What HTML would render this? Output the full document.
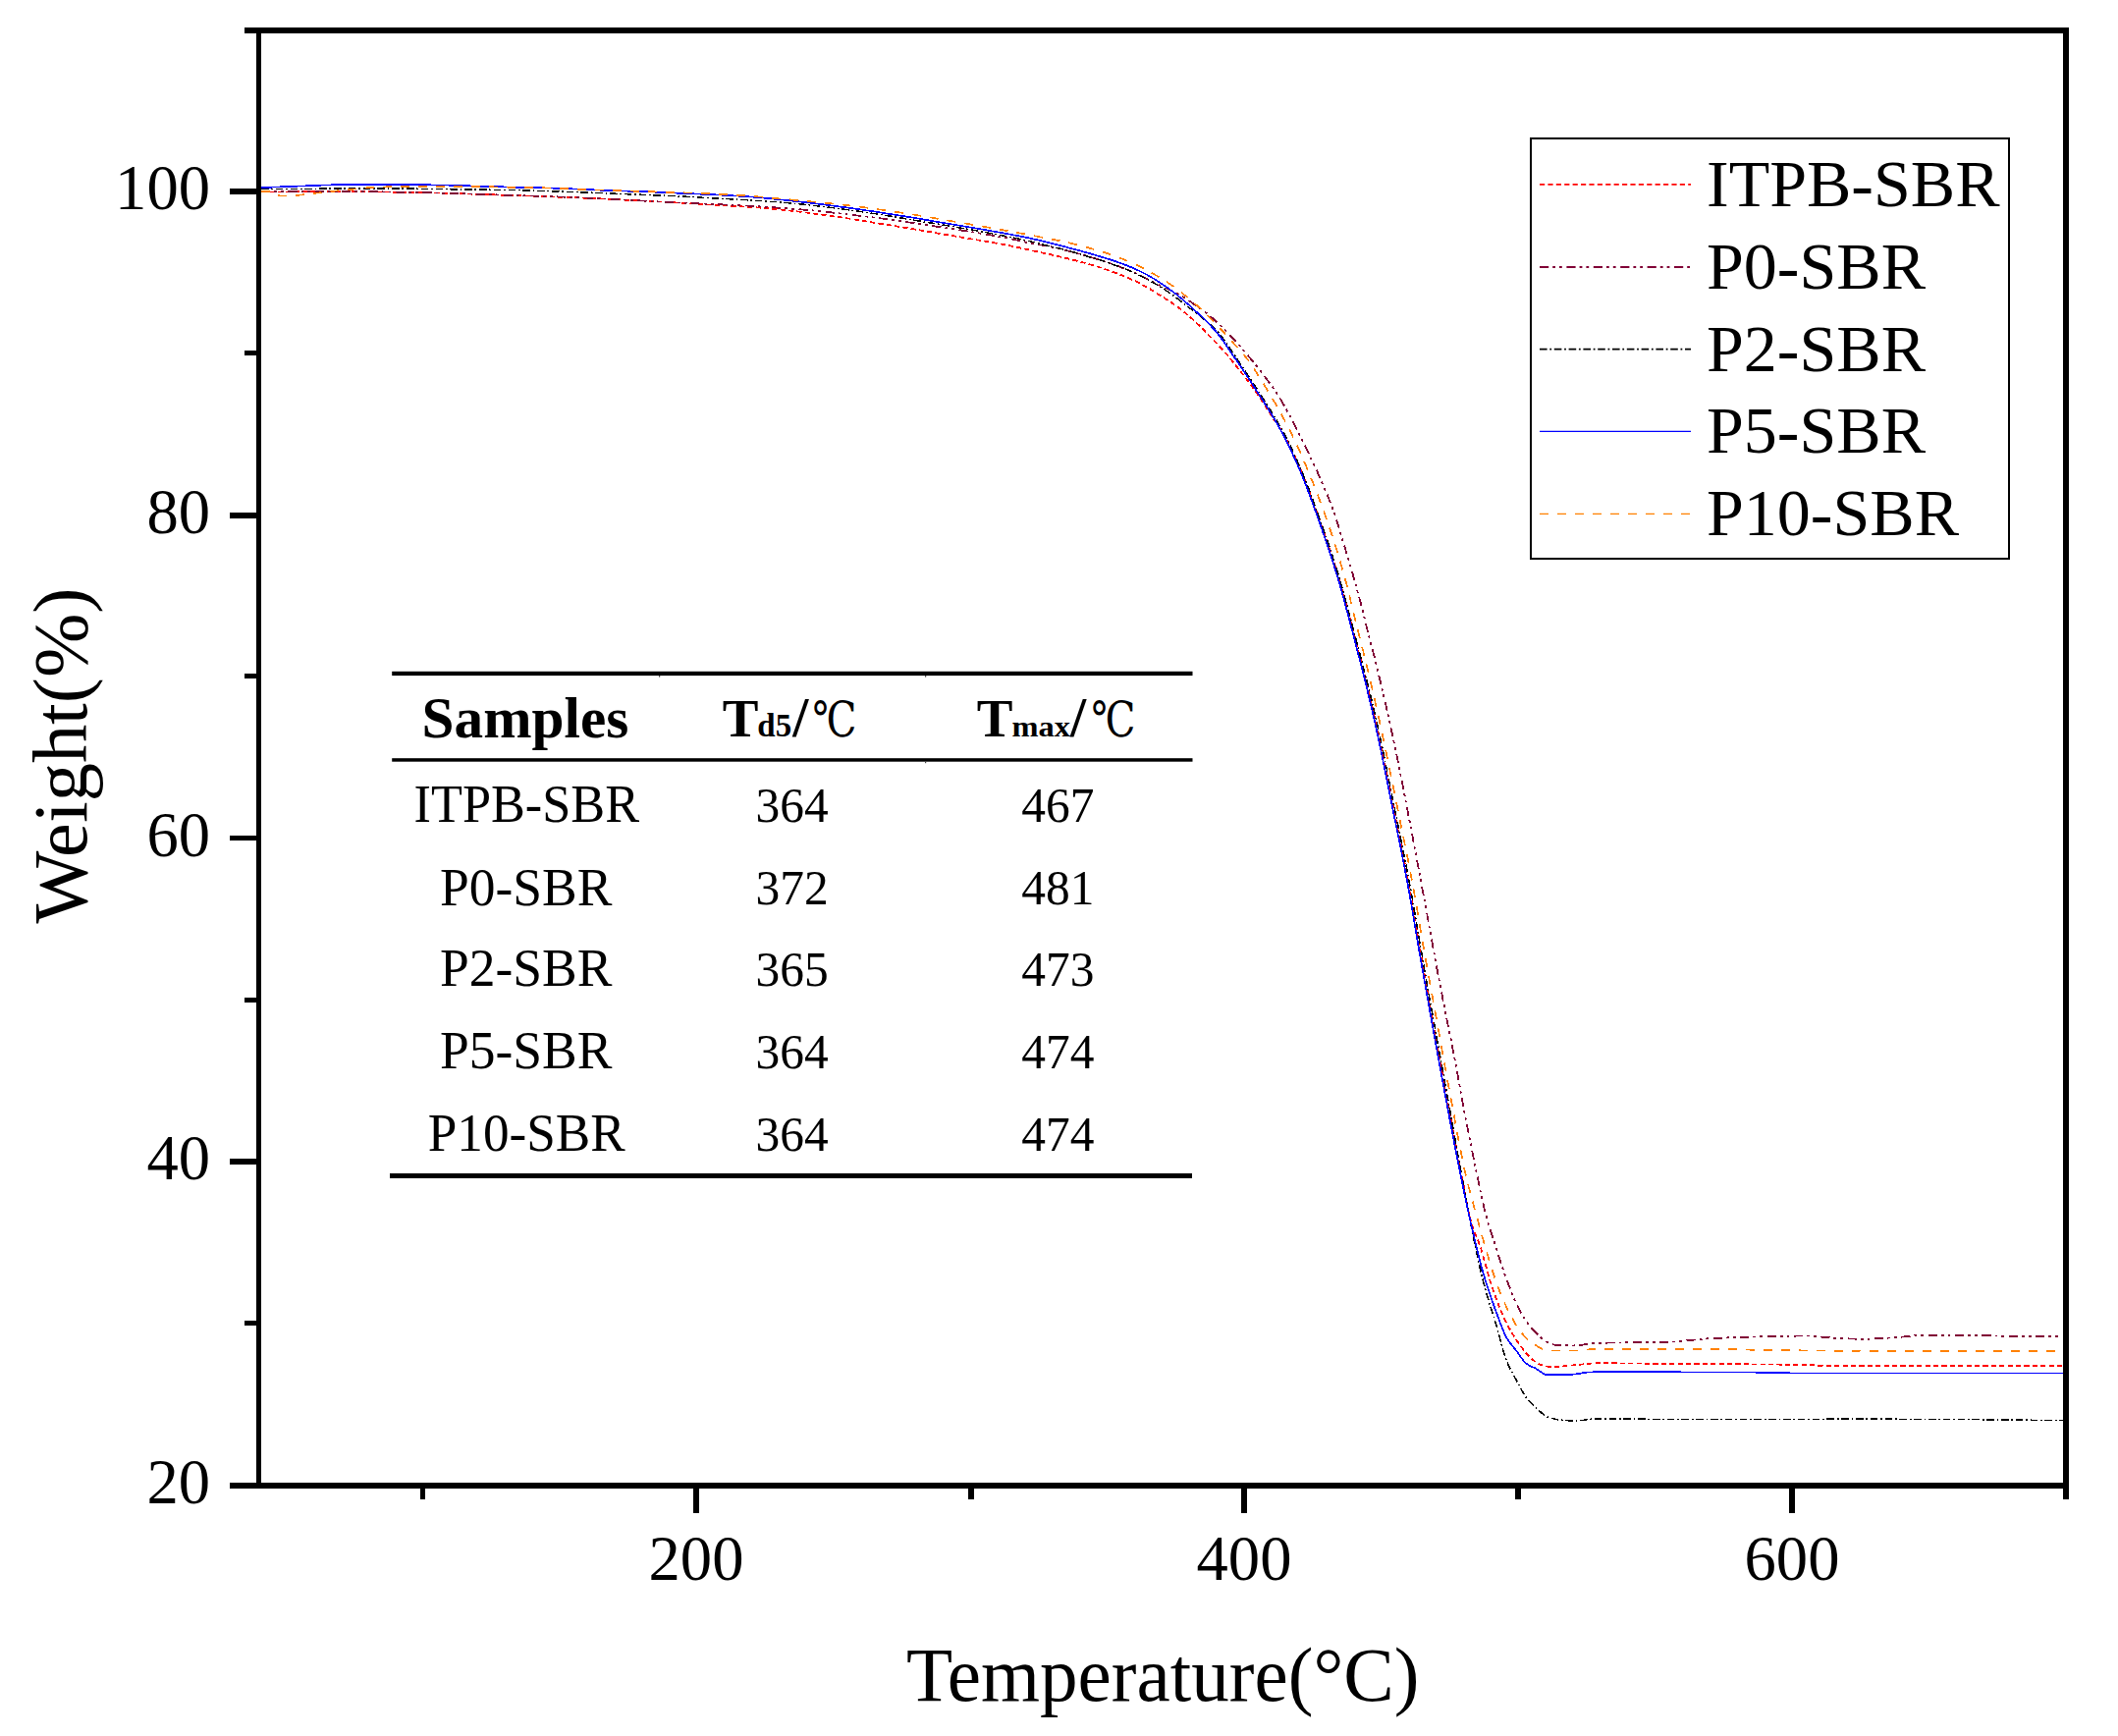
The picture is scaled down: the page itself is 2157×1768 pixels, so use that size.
<!DOCTYPE html>
<html lang="en"><head><meta charset="utf-8"><title>TGA curves</title>
<style>html,body{margin:0;padding:0;background:#fff}svg{display:block}text{font-family:"Liberation Serif","Noto Serif CJK SC",serif;fill:#000}.deg{font-family:"DejaVu Serif","Noto Serif CJK SC",serif}</style></head><body>
<svg width="2157" height="1768" viewBox="0 0 2157 1768">
<rect x="0" y="0" width="2157" height="1768" fill="#ffffff"/>
<defs><clipPath id="plot"><rect x="266" y="34" width="1835" height="1476"/></clipPath></defs>
<g clip-path="url(#plot)" fill="none" stroke-linejoin="round" shape-rendering="crispEdges">
<path d="M266.0,195.5 L268.0,195.5 L270.0,195.5 L272.0,195.5 L274.0,195.5 L276.0,195.4 L278.0,195.4 L280.0,195.4 L282.0,195.4 L284.0,195.4 L286.0,195.4 L288.0,195.4 L290.0,195.4 L292.0,195.4 L294.0,195.4 L296.0,195.3 L298.0,195.3 L300.0,195.3 L302.0,195.3 L304.0,195.3 L306.0,195.3 L308.0,195.3 L310.0,195.3 L312.0,195.3 L314.0,195.3 L316.0,195.3 L318.0,195.3 L320.0,195.3 L322.0,195.3 L324.0,195.3 L326.0,195.3 L328.0,195.3 L330.0,195.3 L332.0,195.3 L334.0,195.3 L336.0,195.3 L338.0,195.3 L340.0,195.3 L342.0,195.3 L344.0,195.3 L346.0,195.3 L348.0,195.3 L350.0,195.3 L352.0,195.3 L354.0,195.3 L356.0,195.3 L358.0,195.3 L360.0,195.3 L362.0,195.3 L364.0,195.3 L366.0,195.3 L368.0,195.3 L370.0,195.3 L372.0,195.3 L374.0,195.3 L376.0,195.3 L378.0,195.4 L380.0,195.4 L382.0,195.4 L384.0,195.4 L386.0,195.4 L388.0,195.4 L390.0,195.5 L392.0,195.5 L394.0,195.5 L396.0,195.5 L398.0,195.6 L400.0,195.6 L402.0,195.6 L404.0,195.7 L406.0,195.7 L408.0,195.7 L410.0,195.7 L412.0,195.8 L414.0,195.8 L416.0,195.8 L418.0,195.9 L420.0,195.9 L422.0,195.9 L424.0,196.0 L426.0,196.0 L428.0,196.1 L430.0,196.1 L432.0,196.1 L434.0,196.2 L436.0,196.2 L438.0,196.3 L440.0,196.4 L442.0,196.4 L444.0,196.5 L446.0,196.5 L448.0,196.6 L450.0,196.7 L452.0,196.7 L454.0,196.8 L456.0,196.9 L458.0,196.9 L460.0,197.0 L462.0,197.1 L464.0,197.1 L466.0,197.2 L468.0,197.2 L470.0,197.3 L472.0,197.4 L474.0,197.4 L476.0,197.5 L478.0,197.5 L480.0,197.6 L482.0,197.7 L484.0,197.7 L486.0,197.8 L488.0,197.9 L490.0,197.9 L492.0,198.0 L494.0,198.1 L496.0,198.1 L498.0,198.2 L500.0,198.3 L502.0,198.3 L504.0,198.4 L506.0,198.5 L508.0,198.5 L510.0,198.6 L512.0,198.7 L514.0,198.7 L516.0,198.8 L518.0,198.9 L520.0,198.9 L522.0,199.0 L524.0,199.1 L526.0,199.1 L528.0,199.2 L530.0,199.3 L532.0,199.3 L534.0,199.4 L536.0,199.5 L538.0,199.5 L540.0,199.6 L542.0,199.7 L544.0,199.7 L546.0,199.8 L548.0,199.9 L550.0,199.9 L552.0,200.0 L554.0,200.1 L556.0,200.1 L558.0,200.2 L560.0,200.3 L562.0,200.4 L564.0,200.4 L566.0,200.5 L568.0,200.6 L570.0,200.6 L572.0,200.7 L574.0,200.8 L576.0,200.9 L578.0,201.0 L580.0,201.0 L582.0,201.1 L584.0,201.2 L586.0,201.3 L588.0,201.4 L590.0,201.5 L592.0,201.5 L594.0,201.6 L596.0,201.7 L598.0,201.8 L600.0,201.9 L602.0,202.0 L604.0,202.1 L606.0,202.2 L608.0,202.3 L610.0,202.3 L612.0,202.4 L614.0,202.5 L616.0,202.6 L618.0,202.7 L620.0,202.8 L622.0,202.9 L624.0,203.0 L626.0,203.1 L628.0,203.2 L630.0,203.3 L632.0,203.4 L634.0,203.5 L636.0,203.6 L638.0,203.7 L640.0,203.8 L642.0,203.9 L644.0,204.0 L646.0,204.1 L648.0,204.2 L650.0,204.3 L652.0,204.4 L654.0,204.5 L656.0,204.6 L658.0,204.7 L660.0,204.8 L662.0,204.9 L664.0,205.0 L666.0,205.2 L668.0,205.3 L670.0,205.4 L672.0,205.5 L674.0,205.6 L676.0,205.7 L678.0,205.8 L680.0,205.9 L682.0,206.0 L684.0,206.2 L686.0,206.3 L688.0,206.4 L690.0,206.5 L692.0,206.6 L694.0,206.7 L696.0,206.9 L698.0,207.0 L700.0,207.1 L702.0,207.2 L704.0,207.4 L706.0,207.5 L708.0,207.6 L710.0,207.7 L712.0,207.9 L714.0,208.0 L716.0,208.1 L718.0,208.2 L720.0,208.4 L722.0,208.5 L724.0,208.6 L726.0,208.7 L728.0,208.9 L730.0,209.0 L732.0,209.1 L734.0,209.2 L736.0,209.3 L738.0,209.4 L740.0,209.5 L742.0,209.6 L744.0,209.7 L746.0,209.9 L748.0,210.0 L750.0,210.1 L752.0,210.2 L754.0,210.3 L756.0,210.4 L758.0,210.6 L760.0,210.7 L762.0,210.8 L764.0,210.9 L766.0,211.1 L768.0,211.2 L770.0,211.3 L772.0,211.5 L774.0,211.6 L776.0,211.8 L778.0,211.9 L780.0,212.1 L782.0,212.2 L784.0,212.4 L786.0,212.6 L788.0,212.8 L790.0,213.0 L792.0,213.2 L794.0,213.4 L796.0,213.6 L798.0,213.8 L800.0,214.0 L802.0,214.2 L804.0,214.5 L806.0,214.7 L808.0,214.9 L810.0,215.1 L812.0,215.4 L814.0,215.6 L816.0,215.9 L818.0,216.1 L820.0,216.4 L822.0,216.6 L824.0,216.9 L826.0,217.1 L828.0,217.4 L830.0,217.7 L832.0,217.9 L834.0,218.2 L836.0,218.5 L838.0,218.8 L840.0,219.0 L842.0,219.3 L844.0,219.6 L846.0,219.9 L848.0,220.2 L850.0,220.5 L852.0,220.8 L854.0,221.0 L856.0,221.3 L858.0,221.6 L860.0,221.9 L862.0,222.2 L864.0,222.5 L866.0,222.8 L868.0,223.2 L870.0,223.5 L872.0,223.8 L874.0,224.1 L876.0,224.4 L878.0,224.7 L880.0,225.1 L882.0,225.4 L884.0,225.7 L886.0,226.0 L888.0,226.4 L890.0,226.7 L892.0,227.0 L894.0,227.3 L896.0,227.7 L898.0,228.0 L900.0,228.3 L902.0,228.6 L904.0,229.0 L906.0,229.3 L908.0,229.6 L910.0,229.9 L912.0,230.3 L914.0,230.6 L916.0,230.9 L918.0,231.2 L920.0,231.5 L922.0,231.9 L924.0,232.2 L926.0,232.5 L928.0,232.9 L930.0,233.2 L932.0,233.5 L934.0,233.9 L936.0,234.2 L938.0,234.6 L940.0,234.9 L942.0,235.3 L944.0,235.6 L946.0,236.0 L948.0,236.3 L950.0,236.7 L952.0,237.1 L954.0,237.4 L956.0,237.8 L958.0,238.1 L960.0,238.4 L962.0,238.8 L964.0,239.1 L966.0,239.5 L968.0,239.8 L970.0,240.1 L972.0,240.5 L974.0,240.8 L976.0,241.1 L978.0,241.5 L980.0,241.8 L982.0,242.2 L984.0,242.5 L986.0,242.8 L988.0,243.2 L990.0,243.5 L992.0,243.8 L994.0,244.2 L996.0,244.5 L998.0,244.8 L1000.0,245.2 L1002.0,245.5 L1004.0,245.8 L1006.0,246.2 L1008.0,246.5 L1010.0,246.8 L1012.0,247.2 L1014.0,247.5 L1016.0,247.9 L1018.0,248.3 L1020.0,248.6 L1022.0,249.0 L1024.0,249.4 L1026.0,249.8 L1028.0,250.2 L1030.0,250.6 L1032.0,251.0 L1034.0,251.4 L1036.0,251.9 L1038.0,252.3 L1040.0,252.7 L1042.0,253.1 L1044.0,253.6 L1046.0,254.0 L1048.0,254.5 L1050.0,254.9 L1052.0,255.4 L1054.0,255.8 L1056.0,256.3 L1058.0,256.7 L1060.0,257.1 L1062.0,257.6 L1064.0,258.0 L1066.0,258.4 L1068.0,258.9 L1070.0,259.3 L1072.0,259.7 L1074.0,260.2 L1076.0,260.6 L1078.0,261.1 L1080.0,261.6 L1082.0,262.0 L1084.0,262.5 L1086.0,263.0 L1088.0,263.5 L1090.0,264.0 L1092.0,264.5 L1094.0,265.0 L1096.0,265.5 L1098.0,266.1 L1100.0,266.6 L1102.0,267.2 L1104.0,267.7 L1106.0,268.3 L1108.0,268.8 L1110.0,269.4 L1112.0,270.0 L1114.0,270.5 L1116.0,271.1 L1118.0,271.7 L1120.0,272.3 L1122.0,273.0 L1124.0,273.6 L1126.0,274.3 L1128.0,275.0 L1130.0,275.7 L1132.0,276.4 L1134.0,277.1 L1136.0,277.9 L1138.0,278.6 L1140.0,279.4 L1142.0,280.1 L1144.0,280.9 L1146.0,281.7 L1148.0,282.6 L1150.0,283.4 L1152.0,284.3 L1154.0,285.2 L1156.0,286.2 L1158.0,287.1 L1160.0,288.2 L1162.0,289.2 L1164.0,290.3 L1166.0,291.4 L1168.0,292.5 L1170.0,293.7 L1172.0,294.8 L1174.0,296.1 L1176.0,297.3 L1178.0,298.6 L1180.0,299.9 L1182.0,301.2 L1184.0,302.4 L1186.0,303.7 L1188.0,305.0 L1190.0,306.3 L1192.0,307.6 L1194.0,308.9 L1196.0,310.3 L1198.0,311.7 L1200.0,313.2 L1202.0,314.7 L1204.0,316.3 L1206.0,317.9 L1208.0,319.5 L1210.0,321.2 L1212.0,322.9 L1214.0,324.7 L1216.0,326.5 L1218.0,328.4 L1220.0,330.3 L1222.0,332.2 L1224.0,334.2 L1226.0,336.2 L1228.0,338.3 L1230.0,340.4 L1232.0,342.5 L1234.0,344.6 L1236.0,346.7 L1238.0,348.7 L1240.0,350.7 L1242.0,352.8 L1244.0,354.9 L1246.0,357.0 L1248.0,359.3 L1250.0,361.6 L1251.9,363.9 L1253.8,366.2 L1255.7,368.6 L1257.6,371.0 L1259.4,373.3 L1261.3,375.7 L1263.1,378.0 L1265.0,380.4 L1266.9,382.7 L1268.7,385.1 L1270.6,387.5 L1272.4,389.9 L1274.2,392.4 L1275.9,394.8 L1277.7,397.3 L1279.4,399.7 L1281.1,402.2 L1282.8,404.7 L1284.5,407.2 L1286.1,409.7 L1287.8,412.3 L1289.4,414.8 L1291.0,417.3 L1292.6,419.8 L1294.3,422.4 L1295.9,424.9 L1297.5,427.4 L1299.2,429.9 L1300.8,432.3 L1302.5,434.8 L1304.2,437.4 L1305.8,439.9 L1307.4,442.5 L1308.9,445.2 L1310.4,447.9 L1311.8,450.6 L1313.2,453.3 L1314.6,456.0 L1315.9,458.7 L1317.1,461.5 L1318.4,464.2 L1319.6,467.0 L1320.8,469.8 L1322.0,472.6 L1323.2,475.3 L1324.4,478.1 L1325.5,480.9 L1326.7,483.7 L1327.8,486.4 L1328.9,489.2 L1330.1,492.1 L1331.2,494.9 L1332.2,497.7 L1333.3,500.5 L1334.4,503.3 L1335.4,506.2 L1336.5,509.0 L1337.5,511.8 L1338.5,514.6 L1339.5,517.5 L1340.5,520.3 L1341.5,523.1 L1342.5,526.0 L1343.5,528.8 L1344.5,531.6 L1345.5,534.5 L1346.5,537.3 L1347.5,540.1 L1348.5,543.0 L1349.5,545.8 L1350.5,548.7 L1351.5,551.5 L1352.4,554.3 L1353.4,557.2 L1354.4,560.1 L1355.3,562.9 L1356.3,565.8 L1357.2,568.6 L1358.1,571.5 L1359.0,574.4 L1359.9,577.3 L1360.8,580.1 L1361.7,583.0 L1362.6,585.9 L1363.5,588.8 L1364.3,591.7 L1365.1,594.6 L1366.0,597.5 L1366.8,600.4 L1367.6,603.3 L1368.4,606.2 L1369.2,609.1 L1370.0,612.0 L1370.8,614.9 L1371.5,617.9 L1372.3,620.8 L1373.1,623.7 L1373.9,626.6 L1374.6,629.5 L1375.4,632.4 L1376.2,635.3 L1376.9,638.2 L1377.7,641.1 L1378.4,644.0 L1379.2,646.9 L1380.0,649.8 L1380.7,652.7 L1381.5,655.6 L1382.2,658.5 L1383.0,661.4 L1383.8,664.3 L1384.5,667.2 L1385.3,670.1 L1386.0,673.1 L1386.8,676.0 L1387.5,678.9 L1388.2,681.8 L1389.0,684.7 L1389.7,687.6 L1390.4,690.5 L1391.2,693.5 L1391.9,696.4 L1392.6,699.3 L1393.3,702.2 L1394.0,705.1 L1394.7,708.1 L1395.4,711.0 L1396.1,713.9 L1396.8,716.8 L1397.5,719.8 L1398.2,722.7 L1398.9,725.6 L1399.6,728.6 L1400.2,731.5 L1400.9,734.4 L1401.6,737.4 L1402.2,740.3 L1402.9,743.3 L1403.5,746.2 L1404.2,749.2 L1404.8,752.1 L1405.4,755.1 L1406.0,758.0 L1406.7,760.9 L1407.3,763.9 L1407.9,766.8 L1408.5,769.8 L1409.1,772.7 L1409.7,775.7 L1410.3,778.6 L1410.9,781.6 L1411.5,784.5 L1412.1,787.5 L1412.7,790.4 L1413.2,793.3 L1413.8,796.3 L1414.4,799.2 L1415.0,802.2 L1415.6,805.1 L1416.2,808.0 L1416.8,811.0 L1417.4,813.9 L1418.0,816.9 L1418.6,819.8 L1419.1,822.7 L1419.7,825.7 L1420.3,828.6 L1420.9,831.5 L1421.5,834.5 L1422.1,837.4 L1422.7,840.4 L1423.3,843.3 L1423.9,846.2 L1424.5,849.2 L1425.1,852.1 L1425.7,855.1 L1426.3,858.0 L1426.9,861.0 L1427.5,863.9 L1428.1,866.8 L1428.7,869.8 L1429.3,872.7 L1429.9,875.7 L1430.5,878.6 L1431.0,881.6 L1431.6,884.6 L1432.2,887.5 L1432.8,890.5 L1433.3,893.4 L1433.9,896.4 L1434.4,899.3 L1435.0,902.3 L1435.5,905.3 L1436.1,908.2 L1436.6,911.2 L1437.1,914.2 L1437.6,917.1 L1438.2,920.1 L1438.7,923.1 L1439.2,926.0 L1439.7,929.0 L1440.2,932.0 L1440.7,934.9 L1441.2,937.9 L1441.7,940.9 L1442.2,943.8 L1442.7,946.8 L1443.2,949.7 L1443.7,952.7 L1444.2,955.6 L1444.7,958.6 L1445.2,961.5 L1445.7,964.5 L1446.2,967.5 L1446.7,970.4 L1447.2,973.3 L1447.8,976.3 L1448.3,979.2 L1448.8,982.2 L1449.3,985.1 L1449.8,988.1 L1450.4,991.1 L1450.9,994.0 L1451.4,997.0 L1451.9,999.9 L1452.4,1002.9 L1453.0,1005.8 L1453.5,1008.8 L1454.0,1011.7 L1454.6,1014.7 L1455.1,1017.6 L1455.6,1020.6 L1456.1,1023.5 L1456.7,1026.5 L1457.2,1029.4 L1457.7,1032.4 L1458.3,1035.3 L1458.8,1038.3 L1459.3,1041.2 L1459.9,1044.2 L1460.4,1047.1 L1460.9,1050.1 L1461.4,1053.0 L1462.0,1056.0 L1462.5,1058.9 L1463.0,1061.9 L1463.6,1064.8 L1464.1,1067.8 L1464.6,1070.7 L1465.2,1073.7 L1465.7,1076.6 L1466.3,1079.6 L1466.8,1082.5 L1467.3,1085.5 L1467.9,1088.4 L1468.4,1091.4 L1469.0,1094.3 L1469.5,1097.3 L1470.0,1100.2 L1470.6,1103.2 L1471.1,1106.1 L1471.7,1109.1 L1472.2,1112.0 L1472.8,1115.0 L1473.3,1117.9 L1473.9,1120.8 L1474.4,1123.8 L1475.0,1126.7 L1475.6,1129.7 L1476.1,1132.6 L1476.7,1135.6 L1477.2,1138.5 L1477.8,1141.5 L1478.4,1144.4 L1478.9,1147.3 L1479.5,1150.3 L1480.1,1153.2 L1480.6,1156.2 L1481.2,1159.1 L1481.8,1162.1 L1482.3,1165.0 L1482.9,1167.9 L1483.5,1170.9 L1484.0,1173.8 L1484.6,1176.8 L1485.2,1179.7 L1485.8,1182.7 L1486.3,1185.6 L1486.9,1188.5 L1487.5,1191.5 L1488.1,1194.4 L1488.7,1197.4 L1489.2,1200.3 L1489.8,1203.3 L1490.4,1206.3 L1490.9,1209.2 L1491.4,1212.2 L1492.0,1215.2 L1492.5,1218.1 L1493.1,1221.0 L1493.6,1224.0 L1494.2,1226.9 L1494.8,1229.8 L1495.4,1232.7 L1496.0,1235.5 L1496.6,1238.4 L1497.3,1241.2 L1498.0,1244.0 L1498.8,1246.7 L1499.7,1249.5 L1500.6,1252.2 L1501.7,1254.9 L1502.8,1257.6 L1503.9,1260.3 L1505.1,1263.1 L1506.2,1266.0 L1507.3,1268.9 L1508.3,1271.9 L1509.2,1274.8 L1510.1,1277.8 L1510.9,1280.7 L1511.7,1283.6 L1512.5,1286.5 L1513.3,1289.4 L1514.1,1292.3 L1514.9,1295.2 L1515.7,1298.1 L1516.5,1300.9 L1517.3,1303.7 L1518.2,1306.5 L1519.1,1309.3 L1520.1,1312.1 L1521.0,1315.0 L1522.0,1317.8 L1523.0,1320.6 L1524.0,1323.4 L1525.0,1326.1 L1526.1,1328.9 L1527.2,1331.6 L1528.3,1334.4 L1529.5,1337.1 L1530.7,1339.8 L1531.9,1342.5 L1533.2,1345.1 L1534.5,1347.8 L1535.8,1350.4 L1537.2,1353.0 L1538.7,1355.6 L1540.2,1358.1 L1541.7,1360.7 L1543.3,1363.2 L1544.9,1365.6 L1546.6,1368.1 L1548.3,1370.5 L1550.1,1372.8 L1551.9,1375.2 L1553.8,1377.5 L1555.7,1379.7 L1557.6,1381.9 L1559.6,1383.7 L1561.6,1385.3 L1563.6,1386.8 L1565.6,1388.2 L1567.6,1389.3 L1569.6,1390.2 L1571.6,1390.7 L1573.6,1391.2 L1575.6,1391.5 L1577.6,1391.8 L1579.6,1392.0 L1581.6,1392.0 L1583.6,1391.9 L1585.6,1391.8 L1587.6,1391.7 L1589.6,1391.5 L1591.6,1391.4 L1593.6,1391.2 L1595.6,1390.9 L1597.6,1390.7 L1599.6,1390.6 L1601.6,1390.4 L1603.6,1390.2 L1605.6,1390.0 L1607.6,1389.8 L1609.6,1389.6 L1611.6,1389.4 L1613.6,1389.2 L1615.6,1389.0 L1617.6,1388.8 L1619.6,1388.6 L1621.6,1388.5 L1623.6,1388.4 L1625.6,1388.3 L1627.6,1388.3 L1629.6,1388.3 L1631.6,1388.3 L1633.6,1388.3 L1635.6,1388.3 L1637.6,1388.3 L1639.6,1388.3 L1641.6,1388.3 L1643.6,1388.3 L1645.6,1388.3 L1647.6,1388.4 L1649.6,1388.4 L1651.6,1388.4 L1653.6,1388.4 L1655.6,1388.4 L1657.6,1388.4 L1659.6,1388.4 L1661.6,1388.5 L1663.6,1388.5 L1665.6,1388.5 L1667.6,1388.5 L1669.6,1388.5 L1671.6,1388.5 L1673.6,1388.6 L1675.6,1388.6 L1677.6,1388.6 L1679.6,1388.6 L1681.6,1388.6 L1683.6,1388.7 L1685.6,1388.7 L1687.6,1388.7 L1689.6,1388.7 L1691.6,1388.7 L1693.6,1388.8 L1695.6,1388.8 L1697.6,1388.8 L1699.6,1388.8 L1701.6,1388.8 L1703.6,1388.9 L1705.6,1388.9 L1707.6,1388.9 L1709.6,1388.9 L1711.6,1388.9 L1713.6,1388.9 L1715.6,1389.0 L1717.6,1389.0 L1719.6,1389.0 L1721.6,1389.0 L1723.6,1389.0 L1725.6,1389.0 L1727.6,1389.1 L1729.6,1389.1 L1731.6,1389.1 L1733.6,1389.1 L1735.6,1389.1 L1737.6,1389.1 L1739.6,1389.1 L1741.6,1389.1 L1743.6,1389.1 L1745.6,1389.2 L1747.6,1389.2 L1749.6,1389.2 L1751.6,1389.2 L1753.6,1389.2 L1755.6,1389.2 L1757.6,1389.2 L1759.6,1389.2 L1761.6,1389.2 L1763.6,1389.2 L1765.6,1389.3 L1767.6,1389.3 L1769.6,1389.3 L1771.6,1389.3 L1773.6,1389.3 L1775.6,1389.3 L1777.6,1389.3 L1779.6,1389.3 L1781.6,1389.3 L1783.6,1389.4 L1785.6,1389.4 L1787.6,1389.4 L1789.6,1389.4 L1791.6,1389.4 L1793.6,1389.4 L1795.6,1389.4 L1797.6,1389.4 L1799.6,1389.5 L1801.6,1389.5 L1803.6,1389.5 L1805.6,1389.5 L1807.6,1389.5 L1809.6,1389.5 L1811.6,1389.6 L1813.6,1389.6 L1815.6,1389.6 L1817.6,1389.6 L1819.6,1389.7 L1821.6,1389.7 L1823.6,1389.7 L1825.6,1389.7 L1827.6,1389.7 L1829.6,1389.8 L1831.6,1389.8 L1833.6,1389.8 L1835.6,1389.9 L1837.6,1389.9 L1839.6,1389.9 L1841.6,1390.0 L1843.6,1390.1 L1845.6,1390.3 L1847.6,1390.4 L1849.6,1390.5 L1851.6,1390.7 L1853.6,1390.8 L1855.6,1390.9 L1857.6,1391.0 L1859.6,1391.0 L1861.6,1391.0 L1863.6,1391.0 L1865.6,1391.0 L1867.6,1391.0 L1869.6,1391.0 L1871.6,1391.0 L1873.6,1391.0 L1875.6,1391.0 L1877.6,1391.0 L1879.6,1391.0 L1881.6,1391.0 L1883.6,1391.0 L1885.6,1391.0 L1887.6,1391.0 L1889.6,1391.0 L1891.6,1391.0 L1893.6,1391.0 L1895.6,1391.0 L1897.6,1391.0 L1899.6,1391.0 L1901.6,1391.0 L1903.6,1391.0 L1905.6,1391.0 L1907.6,1391.0 L1909.6,1391.0 L1911.6,1391.0 L1913.6,1391.0 L1915.6,1391.0 L1917.6,1391.0 L1919.6,1391.0 L1921.6,1391.0 L1923.6,1391.0 L1925.6,1391.0 L1927.6,1391.0 L1929.6,1391.0 L1931.6,1391.0 L1933.6,1391.0 L1935.6,1391.0 L1937.6,1391.0 L1939.6,1391.0 L1941.6,1391.0 L1943.6,1391.0 L1945.6,1391.0 L1947.6,1391.0 L1949.6,1391.0 L1951.6,1391.0 L1953.6,1391.0 L1955.6,1391.0 L1957.6,1391.0 L1959.6,1391.0 L1961.6,1391.0 L1963.6,1391.0 L1965.6,1391.0 L1967.6,1391.0 L1969.6,1391.0 L1971.6,1391.0 L1973.6,1391.0 L1975.6,1391.0 L1977.6,1391.0 L1979.6,1391.0 L1981.6,1391.0 L1983.6,1391.0 L1985.6,1391.0 L1987.6,1391.0 L1989.6,1391.0 L1991.6,1391.0 L1993.6,1391.0 L1995.6,1391.0 L1997.6,1391.0 L1999.6,1391.0 L2001.6,1391.0 L2003.6,1391.0 L2005.6,1391.0 L2007.6,1391.0 L2009.6,1391.0 L2011.6,1391.0 L2013.6,1391.0 L2015.6,1391.0 L2017.6,1391.0 L2019.6,1391.0 L2021.6,1391.0 L2023.6,1391.0 L2025.6,1391.0 L2027.6,1391.0 L2029.6,1391.0 L2031.6,1391.0 L2033.6,1391.0 L2035.6,1391.0 L2037.6,1391.0 L2039.6,1391.0 L2041.6,1391.0 L2043.6,1391.0 L2045.6,1391.0 L2047.6,1391.0 L2049.6,1391.0 L2051.6,1391.0 L2053.6,1391.0 L2055.6,1391.0 L2057.6,1391.0 L2059.6,1391.0 L2061.6,1391.0 L2063.6,1391.0 L2065.6,1391.0 L2067.6,1391.0 L2069.6,1391.0 L2071.6,1391.0 L2073.6,1391.0 L2075.6,1391.0 L2077.6,1391.0 L2079.6,1391.0 L2081.6,1391.0 L2083.6,1391.0 L2085.6,1391.0 L2087.6,1391.0 L2089.6,1391.0 L2091.6,1391.0 L2093.6,1391.0 L2095.6,1391.0 L2097.6,1391.0 L2099.6,1391.0 L2101.0,1391.0" stroke="#ff0000" stroke-width="1.8" stroke-dasharray="5.2 3.2"/>
<path d="M266.0,195.4 L268.0,195.4 L270.0,195.4 L272.0,195.4 L274.0,195.4 L276.0,195.3 L278.0,195.3 L280.0,195.3 L282.0,195.3 L284.0,195.3 L286.0,195.3 L288.0,195.3 L290.0,195.3 L292.0,195.3 L294.0,195.3 L296.0,195.2 L298.0,195.2 L300.0,195.2 L302.0,195.2 L304.0,195.2 L306.0,195.2 L308.0,195.2 L310.0,195.2 L312.0,195.2 L314.0,195.2 L316.0,195.2 L318.0,195.2 L320.0,195.2 L322.0,195.2 L324.0,195.2 L326.0,195.2 L328.0,195.2 L330.0,195.2 L332.0,195.2 L334.0,195.2 L336.0,195.2 L338.0,195.2 L340.0,195.2 L342.0,195.2 L344.0,195.2 L346.0,195.2 L348.0,195.2 L350.0,195.2 L352.0,195.2 L354.0,195.2 L356.0,195.2 L358.0,195.2 L360.0,195.2 L362.0,195.2 L364.0,195.2 L366.0,195.2 L368.0,195.2 L370.0,195.2 L372.0,195.2 L374.0,195.2 L376.0,195.2 L378.0,195.3 L380.0,195.3 L382.0,195.3 L384.0,195.3 L386.0,195.3 L388.0,195.3 L390.0,195.4 L392.0,195.4 L394.0,195.4 L396.0,195.4 L398.0,195.5 L400.0,195.5 L402.0,195.5 L404.0,195.6 L406.0,195.6 L408.0,195.6 L410.0,195.6 L412.0,195.7 L414.0,195.7 L416.0,195.7 L418.0,195.8 L420.0,195.8 L422.0,195.8 L424.0,195.9 L426.0,195.9 L428.0,196.0 L430.0,196.0 L432.0,196.0 L434.0,196.1 L436.0,196.1 L438.0,196.2 L440.0,196.3 L442.0,196.3 L444.0,196.4 L446.0,196.4 L448.0,196.5 L450.0,196.6 L452.0,196.6 L454.0,196.7 L456.0,196.8 L458.0,196.8 L460.0,196.9 L462.0,197.0 L464.0,197.0 L466.0,197.1 L468.0,197.1 L470.0,197.2 L472.0,197.3 L474.0,197.3 L476.0,197.4 L478.0,197.4 L480.0,197.5 L482.0,197.6 L484.0,197.6 L486.0,197.7 L488.0,197.8 L490.0,197.8 L492.0,197.9 L494.0,198.0 L496.0,198.0 L498.0,198.1 L500.0,198.2 L502.0,198.2 L504.0,198.3 L506.0,198.4 L508.0,198.4 L510.0,198.5 L512.0,198.6 L514.0,198.6 L516.0,198.7 L518.0,198.8 L520.0,198.8 L522.0,198.9 L524.0,199.0 L526.0,199.0 L528.0,199.1 L530.0,199.2 L532.0,199.2 L534.0,199.3 L536.0,199.3 L538.0,199.4 L540.0,199.5 L542.0,199.5 L544.0,199.6 L546.0,199.7 L548.0,199.7 L550.0,199.8 L552.0,199.8 L554.0,199.9 L556.0,200.0 L558.0,200.0 L560.0,200.1 L562.0,200.2 L564.0,200.2 L566.0,200.3 L568.0,200.4 L570.0,200.5 L572.0,200.5 L574.0,200.6 L576.0,200.7 L578.0,200.8 L580.0,200.8 L582.0,200.9 L584.0,201.0 L586.0,201.1 L588.0,201.2 L590.0,201.3 L592.0,201.4 L594.0,201.4 L596.0,201.5 L598.0,201.6 L600.0,201.7 L602.0,201.8 L604.0,201.9 L606.0,202.0 L608.0,202.1 L610.0,202.2 L612.0,202.3 L614.0,202.4 L616.0,202.5 L618.0,202.6 L620.0,202.7 L622.0,202.8 L624.0,202.9 L626.0,203.0 L628.0,203.1 L630.0,203.2 L632.0,203.3 L634.0,203.4 L636.0,203.5 L638.0,203.6 L640.0,203.7 L642.0,203.8 L644.0,203.9 L646.0,204.1 L648.0,204.2 L650.0,204.3 L652.0,204.4 L654.0,204.5 L656.0,204.6 L658.0,204.7 L660.0,204.8 L662.0,204.9 L664.0,205.0 L666.0,205.2 L668.0,205.3 L670.0,205.4 L672.0,205.5 L674.0,205.6 L676.0,205.7 L678.0,205.8 L680.0,205.9 L682.0,206.0 L684.0,206.1 L686.0,206.2 L688.0,206.3 L690.0,206.4 L692.0,206.5 L694.0,206.6 L696.0,206.7 L698.0,206.8 L700.0,206.9 L702.0,206.9 L704.0,207.0 L706.0,207.1 L708.0,207.2 L710.0,207.3 L712.0,207.4 L714.0,207.5 L716.0,207.5 L718.0,207.6 L720.0,207.7 L722.0,207.8 L724.0,207.9 L726.0,208.0 L728.0,208.1 L730.0,208.1 L732.0,208.2 L734.0,208.3 L736.0,208.4 L738.0,208.5 L740.0,208.6 L742.0,208.7 L744.0,208.7 L746.0,208.8 L748.0,208.9 L750.0,209.0 L752.0,209.1 L754.0,209.2 L756.0,209.3 L758.0,209.4 L760.0,209.5 L762.0,209.6 L764.0,209.8 L766.0,209.9 L768.0,210.0 L770.0,210.1 L772.0,210.2 L774.0,210.4 L776.0,210.5 L778.0,210.6 L780.0,210.7 L782.0,210.9 L784.0,211.0 L786.0,211.2 L788.0,211.3 L790.0,211.4 L792.0,211.6 L794.0,211.7 L796.0,211.9 L798.0,212.0 L800.0,212.2 L802.0,212.3 L804.0,212.5 L806.0,212.6 L808.0,212.8 L810.0,212.9 L812.0,213.1 L814.0,213.2 L816.0,213.4 L818.0,213.6 L820.0,213.7 L822.0,213.9 L824.0,214.1 L826.0,214.3 L828.0,214.4 L830.0,214.6 L832.0,214.8 L834.0,215.0 L836.0,215.2 L838.0,215.4 L840.0,215.6 L842.0,215.9 L844.0,216.1 L846.0,216.3 L848.0,216.6 L850.0,216.8 L852.0,217.0 L854.0,217.3 L856.0,217.5 L858.0,217.8 L860.0,218.0 L862.0,218.2 L864.0,218.5 L866.0,218.7 L868.0,218.9 L870.0,219.2 L872.0,219.4 L874.0,219.6 L876.0,219.8 L878.0,220.1 L880.0,220.3 L882.0,220.5 L884.0,220.7 L886.0,221.0 L888.0,221.2 L890.0,221.5 L892.0,221.7 L894.0,222.0 L896.0,222.2 L898.0,222.5 L900.0,222.7 L902.0,223.0 L904.0,223.3 L906.0,223.6 L908.0,223.9 L910.0,224.1 L912.0,224.4 L914.0,224.7 L916.0,225.0 L918.0,225.3 L920.0,225.6 L922.0,225.9 L924.0,226.2 L926.0,226.5 L928.0,226.8 L930.0,227.1 L932.0,227.4 L934.0,227.7 L936.0,228.0 L938.0,228.3 L940.0,228.6 L942.0,228.9 L944.0,229.2 L946.0,229.5 L948.0,229.8 L950.0,230.1 L952.0,230.4 L954.0,230.7 L956.0,231.0 L958.0,231.3 L960.0,231.6 L962.0,231.9 L964.0,232.2 L966.0,232.5 L968.0,232.8 L970.0,233.1 L972.0,233.4 L974.0,233.7 L976.0,234.0 L978.0,234.3 L980.0,234.7 L982.0,235.0 L984.0,235.3 L986.0,235.6 L988.0,236.0 L990.0,236.3 L992.0,236.6 L994.0,237.0 L996.0,237.3 L998.0,237.6 L1000.0,238.0 L1002.0,238.3 L1004.0,238.6 L1006.0,239.0 L1008.0,239.3 L1010.0,239.6 L1012.0,240.0 L1014.0,240.3 L1016.0,240.7 L1018.0,241.0 L1020.0,241.4 L1022.0,241.8 L1024.0,242.1 L1026.0,242.5 L1028.0,242.9 L1030.0,243.3 L1032.0,243.7 L1034.0,244.2 L1036.0,244.7 L1038.0,245.1 L1040.0,245.6 L1042.0,246.1 L1044.0,246.5 L1046.0,247.0 L1048.0,247.4 L1050.0,247.8 L1052.0,248.2 L1054.0,248.6 L1056.0,248.9 L1058.0,249.2 L1060.0,249.5 L1062.0,249.8 L1064.0,250.1 L1066.0,250.5 L1068.0,250.9 L1070.0,251.3 L1072.0,251.7 L1074.0,252.2 L1076.0,252.7 L1078.0,253.1 L1080.0,253.6 L1082.0,254.1 L1084.0,254.6 L1086.0,255.2 L1088.0,255.7 L1090.0,256.2 L1092.0,256.7 L1094.0,257.3 L1096.0,257.8 L1098.0,258.3 L1100.0,258.9 L1102.0,259.4 L1104.0,260.0 L1106.0,260.5 L1108.0,261.1 L1110.0,261.7 L1112.0,262.3 L1114.0,262.9 L1116.0,263.5 L1118.0,264.1 L1120.0,264.7 L1122.0,265.4 L1124.0,266.0 L1126.0,266.7 L1128.0,267.4 L1130.0,268.0 L1132.0,268.7 L1134.0,269.4 L1136.0,270.2 L1138.0,270.9 L1140.0,271.6 L1142.0,272.4 L1144.0,273.2 L1146.0,274.0 L1148.0,274.8 L1150.0,275.6 L1152.0,276.4 L1154.0,277.3 L1156.0,278.2 L1158.0,279.2 L1160.0,280.2 L1162.0,281.2 L1164.0,282.2 L1166.0,283.2 L1168.0,284.2 L1170.0,285.3 L1172.0,286.3 L1174.0,287.2 L1176.0,288.2 L1178.0,289.1 L1180.0,289.9 L1182.0,290.8 L1184.0,291.6 L1186.0,292.5 L1188.0,293.4 L1190.0,294.4 L1192.0,295.4 L1194.0,296.5 L1196.0,297.5 L1198.0,298.6 L1200.0,299.6 L1202.0,300.7 L1204.0,301.8 L1206.0,302.9 L1208.0,304.2 L1210.0,305.6 L1212.0,307.0 L1214.0,308.4 L1216.0,309.8 L1218.0,311.2 L1220.0,312.5 L1222.0,313.9 L1224.0,315.4 L1226.0,316.9 L1228.0,318.4 L1230.0,320.0 L1232.0,321.6 L1234.0,323.3 L1236.0,325.0 L1238.0,326.8 L1240.0,328.7 L1242.0,330.5 L1244.0,332.5 L1246.0,334.4 L1248.0,336.5 L1250.0,338.6 L1252.0,340.7 L1254.0,342.8 L1256.0,345.0 L1258.0,347.2 L1260.0,349.4 L1262.0,351.7 L1264.0,354.0 L1265.9,356.3 L1267.9,358.5 L1269.8,360.8 L1271.8,363.1 L1273.7,365.4 L1275.6,367.8 L1277.5,370.1 L1279.4,372.4 L1281.3,374.8 L1283.2,377.1 L1285.0,379.5 L1286.8,381.9 L1288.7,384.3 L1290.5,386.7 L1292.3,389.1 L1294.1,391.6 L1295.8,394.0 L1297.5,396.5 L1299.2,399.0 L1300.9,401.6 L1302.5,404.1 L1304.1,406.7 L1305.6,409.3 L1307.2,411.9 L1308.7,414.5 L1310.2,417.2 L1311.6,419.8 L1313.1,422.4 L1314.5,425.1 L1315.9,427.8 L1317.3,430.5 L1318.7,433.2 L1320.0,435.9 L1321.4,438.6 L1322.7,441.3 L1324.0,444.0 L1325.3,446.7 L1326.6,449.4 L1327.9,452.0 L1329.3,454.7 L1330.6,457.4 L1331.9,460.1 L1333.2,462.8 L1334.5,465.5 L1335.8,468.3 L1337.1,471.0 L1338.4,473.7 L1339.7,476.4 L1340.9,479.2 L1342.2,481.9 L1343.4,484.7 L1344.7,487.4 L1345.9,490.2 L1347.1,492.9 L1348.3,495.7 L1349.4,498.5 L1350.6,501.3 L1351.8,504.1 L1352.9,506.9 L1354.0,509.7 L1355.1,512.5 L1356.2,515.3 L1357.3,518.2 L1358.3,521.1 L1359.3,524.0 L1360.2,526.9 L1361.2,529.8 L1362.0,532.7 L1362.9,535.5 L1363.8,538.4 L1364.7,541.3 L1365.5,544.2 L1366.4,547.0 L1367.2,549.9 L1368.1,552.8 L1369.0,555.6 L1369.9,558.5 L1370.7,561.4 L1371.6,564.3 L1372.5,567.1 L1373.3,570.0 L1374.2,572.9 L1375.0,575.8 L1375.9,578.7 L1376.7,581.6 L1377.6,584.5 L1378.4,587.4 L1379.2,590.3 L1380.0,593.2 L1380.8,596.1 L1381.6,599.0 L1382.4,601.9 L1383.2,604.8 L1384.0,607.7 L1384.8,610.6 L1385.6,613.5 L1386.4,616.4 L1387.1,619.3 L1387.9,622.3 L1388.6,625.2 L1389.3,628.2 L1390.0,631.2 L1390.7,634.1 L1391.4,637.0 L1392.1,639.8 L1392.8,642.7 L1393.5,645.6 L1394.3,648.4 L1395.0,651.3 L1395.8,654.2 L1396.6,657.1 L1397.4,660.0 L1398.2,663.0 L1398.9,665.9 L1399.7,668.8 L1400.4,671.8 L1401.1,674.7 L1401.8,677.6 L1402.5,680.5 L1403.2,683.4 L1403.9,686.4 L1404.6,689.3 L1405.3,692.2 L1406.0,695.1 L1406.7,698.1 L1407.4,701.0 L1408.1,703.9 L1408.8,706.9 L1409.5,709.8 L1410.1,712.7 L1410.8,715.7 L1411.5,718.6 L1412.1,721.5 L1412.8,724.4 L1413.4,727.4 L1414.1,730.3 L1414.8,733.3 L1415.4,736.2 L1416.1,739.1 L1416.7,742.1 L1417.3,745.0 L1418.0,747.9 L1418.6,750.9 L1419.2,753.8 L1419.9,756.8 L1420.5,759.7 L1421.1,762.6 L1421.7,765.6 L1422.3,768.5 L1422.9,771.5 L1423.5,774.4 L1424.1,777.4 L1424.7,780.3 L1425.3,783.3 L1425.9,786.3 L1426.5,789.2 L1427.1,792.2 L1427.7,795.1 L1428.2,798.1 L1428.8,801.0 L1429.4,804.0 L1429.9,806.9 L1430.5,809.9 L1431.1,812.8 L1431.6,815.8 L1432.2,818.7 L1432.8,821.7 L1433.3,824.6 L1433.9,827.6 L1434.4,830.5 L1435.0,833.5 L1435.6,836.4 L1436.1,839.3 L1436.7,842.3 L1437.2,845.2 L1437.8,848.2 L1438.4,851.1 L1438.9,854.1 L1439.5,857.0 L1440.0,860.0 L1440.6,862.9 L1441.2,865.9 L1441.7,868.8 L1442.3,871.8 L1442.8,874.7 L1443.4,877.7 L1443.9,880.6 L1444.5,883.6 L1445.0,886.5 L1445.6,889.5 L1446.1,892.4 L1446.7,895.4 L1447.2,898.3 L1447.8,901.3 L1448.3,904.2 L1448.9,907.2 L1449.4,910.1 L1450.0,913.1 L1450.5,916.0 L1451.1,919.0 L1451.6,921.9 L1452.2,924.9 L1452.7,927.8 L1453.3,930.8 L1453.8,933.7 L1454.3,936.7 L1454.9,939.7 L1455.4,942.6 L1456.0,945.6 L1456.5,948.5 L1457.0,951.5 L1457.6,954.4 L1458.1,957.4 L1458.6,960.3 L1459.2,963.3 L1459.7,966.2 L1460.2,969.2 L1460.8,972.1 L1461.3,975.1 L1461.8,978.0 L1462.4,981.0 L1462.9,983.9 L1463.5,986.9 L1464.0,989.8 L1464.6,992.7 L1465.1,995.7 L1465.7,998.6 L1466.3,1001.5 L1466.8,1004.5 L1467.4,1007.4 L1468.0,1010.3 L1468.6,1013.3 L1469.2,1016.2 L1469.7,1019.2 L1470.3,1022.1 L1470.9,1025.0 L1471.5,1028.0 L1472.1,1030.9 L1472.7,1033.9 L1473.3,1036.8 L1473.8,1039.7 L1474.4,1042.7 L1475.0,1045.6 L1475.6,1048.6 L1476.2,1051.5 L1476.8,1054.4 L1477.4,1057.4 L1478.0,1060.3 L1478.6,1063.3 L1479.2,1066.2 L1479.7,1069.2 L1480.3,1072.1 L1480.9,1075.1 L1481.5,1078.0 L1482.0,1081.0 L1482.6,1084.0 L1483.1,1086.9 L1483.7,1089.9 L1484.2,1092.9 L1484.8,1095.8 L1485.3,1098.8 L1485.8,1101.8 L1486.4,1104.7 L1486.9,1107.7 L1487.4,1110.6 L1488.0,1113.6 L1488.5,1116.5 L1489.0,1119.5 L1489.5,1122.4 L1490.1,1125.4 L1490.6,1128.3 L1491.2,1131.2 L1491.7,1134.2 L1492.3,1137.1 L1492.8,1140.0 L1493.4,1143.0 L1493.9,1145.9 L1494.5,1148.8 L1495.1,1151.8 L1495.7,1154.7 L1496.3,1157.6 L1496.8,1160.6 L1497.4,1163.5 L1498.0,1166.5 L1498.6,1169.4 L1499.2,1172.3 L1499.8,1175.2 L1500.4,1178.2 L1501.0,1181.1 L1501.6,1184.0 L1502.2,1187.0 L1502.8,1189.9 L1503.4,1192.8 L1504.1,1195.8 L1504.7,1198.7 L1505.3,1201.7 L1505.9,1204.6 L1506.5,1207.5 L1507.1,1210.5 L1507.7,1213.4 L1508.4,1216.3 L1509.0,1219.2 L1509.6,1222.1 L1510.3,1225.0 L1510.9,1227.9 L1511.6,1230.8 L1512.3,1233.6 L1513.1,1236.5 L1513.8,1239.3 L1514.6,1242.2 L1515.4,1245.0 L1516.3,1247.8 L1517.1,1250.7 L1518.0,1253.5 L1518.9,1256.3 L1519.8,1259.2 L1520.8,1262.0 L1521.7,1264.9 L1522.6,1267.7 L1523.6,1270.6 L1524.5,1273.5 L1525.4,1276.3 L1526.3,1279.2 L1527.2,1282.0 L1528.2,1284.9 L1529.1,1287.7 L1530.0,1290.5 L1531.0,1293.4 L1531.9,1296.2 L1532.9,1299.0 L1533.9,1301.8 L1534.9,1304.6 L1536.0,1307.4 L1537.0,1310.1 L1538.1,1312.9 L1539.2,1315.7 L1540.3,1318.4 L1541.4,1321.2 L1542.6,1323.9 L1543.8,1326.5 L1545.1,1329.2 L1546.4,1331.8 L1547.7,1334.5 L1549.1,1337.1 L1550.6,1339.6 L1552.1,1342.2 L1553.6,1344.6 L1555.3,1347.0 L1557.1,1349.3 L1558.9,1351.6 L1560.9,1353.8 L1562.9,1355.9 L1564.9,1357.9 L1566.9,1359.9 L1568.9,1361.9 L1570.9,1363.8 L1572.9,1365.4 L1574.9,1366.7 L1576.9,1367.5 L1578.9,1368.3 L1580.9,1369.0 L1582.9,1369.6 L1584.9,1369.9 L1586.9,1370.0 L1588.9,1370.1 L1590.9,1370.2 L1592.9,1370.3 L1594.9,1370.3 L1596.9,1370.4 L1598.9,1370.4 L1600.9,1370.4 L1602.9,1370.4 L1604.9,1370.3 L1606.9,1370.1 L1608.9,1369.9 L1610.9,1369.7 L1612.9,1369.4 L1614.9,1369.1 L1616.9,1368.8 L1618.9,1368.6 L1620.9,1368.3 L1622.9,1368.1 L1624.9,1367.9 L1626.9,1367.8 L1628.9,1367.8 L1630.9,1367.7 L1632.9,1367.7 L1634.9,1367.6 L1636.9,1367.6 L1638.9,1367.5 L1640.9,1367.5 L1642.9,1367.5 L1644.9,1367.4 L1646.9,1367.4 L1648.9,1367.4 L1650.9,1367.4 L1652.9,1367.3 L1654.9,1367.3 L1656.9,1367.3 L1658.9,1367.3 L1660.9,1367.3 L1662.9,1367.2 L1664.9,1367.2 L1666.9,1367.2 L1668.9,1367.2 L1670.9,1367.2 L1672.9,1367.2 L1674.9,1367.1 L1676.9,1367.1 L1678.9,1367.1 L1680.9,1367.1 L1682.9,1367.0 L1684.9,1367.0 L1686.9,1367.0 L1688.9,1366.9 L1690.9,1366.9 L1692.9,1366.9 L1694.9,1366.8 L1696.9,1366.8 L1698.9,1366.7 L1700.9,1366.7 L1702.9,1366.6 L1704.9,1366.5 L1706.9,1366.4 L1708.9,1366.2 L1710.9,1366.0 L1712.9,1365.9 L1714.9,1365.7 L1716.9,1365.5 L1718.9,1365.2 L1720.9,1365.0 L1722.9,1364.8 L1724.9,1364.6 L1726.9,1364.4 L1728.9,1364.2 L1730.9,1364.0 L1732.9,1363.8 L1734.9,1363.6 L1736.9,1363.5 L1738.9,1363.3 L1740.9,1363.2 L1742.9,1363.1 L1744.9,1363.0 L1746.9,1362.9 L1748.9,1362.8 L1750.9,1362.7 L1752.9,1362.6 L1754.9,1362.6 L1756.9,1362.5 L1758.9,1362.4 L1760.9,1362.3 L1762.9,1362.2 L1764.9,1362.2 L1766.9,1362.1 L1768.9,1362.0 L1770.9,1361.9 L1772.9,1361.9 L1774.9,1361.8 L1776.9,1361.8 L1778.9,1361.7 L1780.9,1361.6 L1782.9,1361.6 L1784.9,1361.5 L1786.9,1361.5 L1788.9,1361.4 L1790.9,1361.4 L1792.9,1361.3 L1794.9,1361.3 L1796.9,1361.2 L1798.9,1361.1 L1800.9,1361.1 L1802.9,1361.0 L1804.9,1361.0 L1806.9,1360.9 L1808.9,1360.9 L1810.9,1360.8 L1812.9,1360.8 L1814.9,1360.8 L1816.9,1360.7 L1818.9,1360.7 L1820.9,1360.7 L1822.9,1360.6 L1824.9,1360.6 L1826.9,1360.6 L1828.9,1360.6 L1830.9,1360.5 L1832.9,1360.5 L1834.9,1360.5 L1836.9,1360.5 L1838.9,1360.5 L1840.9,1360.5 L1842.9,1360.6 L1844.9,1360.7 L1846.9,1360.8 L1848.9,1361.0 L1850.9,1361.2 L1852.9,1361.4 L1854.9,1361.6 L1856.9,1361.8 L1858.9,1362.0 L1860.9,1362.1 L1862.9,1362.3 L1864.9,1362.5 L1866.9,1362.6 L1868.9,1362.7 L1870.9,1362.8 L1872.9,1362.9 L1874.9,1363.0 L1876.9,1363.1 L1878.9,1363.2 L1880.9,1363.3 L1882.9,1363.4 L1884.9,1363.4 L1886.9,1363.5 L1888.9,1363.6 L1890.9,1363.6 L1892.9,1363.7 L1894.9,1363.7 L1896.9,1363.7 L1898.9,1363.7 L1900.9,1363.7 L1902.9,1363.6 L1904.9,1363.6 L1906.9,1363.5 L1908.9,1363.4 L1910.9,1363.3 L1912.9,1363.2 L1914.9,1363.1 L1916.9,1363.0 L1918.9,1362.9 L1920.9,1362.7 L1922.9,1362.6 L1924.9,1362.5 L1926.9,1362.4 L1928.9,1362.2 L1930.9,1362.1 L1932.9,1361.9 L1934.9,1361.8 L1936.9,1361.6 L1938.9,1361.4 L1940.9,1361.2 L1942.9,1361.0 L1944.9,1360.8 L1946.9,1360.6 L1948.9,1360.4 L1950.9,1360.3 L1952.9,1360.2 L1954.9,1360.1 L1956.9,1360.0 L1958.9,1360.0 L1960.9,1360.0 L1962.9,1359.9 L1964.9,1359.9 L1966.9,1359.9 L1968.9,1359.9 L1970.9,1359.9 L1972.9,1359.8 L1974.9,1359.8 L1976.9,1359.8 L1978.9,1359.8 L1980.9,1359.8 L1982.9,1359.8 L1984.9,1359.8 L1986.9,1359.8 L1988.9,1359.7 L1990.9,1359.7 L1992.9,1359.7 L1994.9,1359.7 L1996.9,1359.7 L1998.9,1359.7 L2000.9,1359.7 L2002.9,1359.7 L2004.9,1359.7 L2006.9,1359.7 L2008.9,1359.7 L2010.9,1359.7 L2012.9,1359.8 L2014.9,1359.8 L2016.9,1359.9 L2018.9,1359.9 L2020.9,1360.0 L2022.9,1360.1 L2024.9,1360.2 L2026.9,1360.2 L2028.9,1360.3 L2030.9,1360.4 L2032.9,1360.5 L2034.9,1360.6 L2036.9,1360.7 L2038.9,1360.8 L2040.9,1360.9 L2042.9,1361.0 L2044.9,1361.1 L2046.9,1361.1 L2048.9,1361.2 L2050.9,1361.2 L2052.9,1361.3 L2054.9,1361.3 L2056.9,1361.3 L2058.9,1361.3 L2060.9,1361.3 L2062.9,1361.3 L2064.9,1361.3 L2066.9,1361.3 L2068.9,1361.3 L2070.9,1361.2 L2072.9,1361.2 L2074.9,1361.2 L2076.9,1361.2 L2078.9,1361.1 L2080.9,1361.1 L2082.9,1361.1 L2084.9,1361.0 L2086.9,1361.0 L2088.9,1360.9 L2090.9,1360.9 L2092.9,1360.8 L2094.9,1360.7 L2096.9,1360.7 L2098.9,1360.6 L2100.9,1360.5 L2101.0,1360.5" stroke="#800035" stroke-width="1.8" stroke-dasharray="9.2 4 2.8 4 2.8 4.6"/>
<path d="M266.0,192.6 L268.0,192.6 L270.0,192.6 L272.0,192.6 L274.0,192.5 L276.0,192.5 L278.0,192.5 L280.0,192.5 L282.0,192.5 L284.0,192.5 L286.0,192.5 L288.0,192.4 L290.0,192.4 L292.0,192.4 L294.0,192.4 L296.0,192.4 L298.0,192.4 L300.0,192.4 L302.0,192.4 L304.0,192.3 L306.0,192.3 L308.0,192.3 L310.0,192.3 L312.0,192.3 L314.0,192.3 L316.0,192.3 L318.0,192.3 L320.0,192.3 L322.0,192.3 L324.0,192.3 L326.0,192.2 L328.0,192.2 L330.0,192.2 L332.0,192.2 L334.0,192.2 L336.0,192.2 L338.0,192.2 L340.0,192.2 L342.0,192.2 L344.0,192.2 L346.0,192.2 L348.0,192.2 L350.0,192.2 L352.0,192.2 L354.0,192.2 L356.0,192.2 L358.0,192.2 L360.0,192.2 L362.0,192.1 L364.0,192.1 L366.0,192.1 L368.0,192.1 L370.0,192.1 L372.0,192.1 L374.0,192.1 L376.0,192.1 L378.0,192.1 L380.0,192.1 L382.0,192.1 L384.0,192.1 L386.0,192.1 L388.0,192.1 L390.0,192.1 L392.0,192.1 L394.0,192.1 L396.0,192.1 L398.0,192.1 L400.0,192.1 L402.0,192.1 L404.0,192.1 L406.0,192.1 L408.0,192.1 L410.0,192.1 L412.0,192.1 L414.0,192.2 L416.0,192.2 L418.0,192.2 L420.0,192.2 L422.0,192.2 L424.0,192.2 L426.0,192.3 L428.0,192.3 L430.0,192.3 L432.0,192.3 L434.0,192.4 L436.0,192.4 L438.0,192.4 L440.0,192.5 L442.0,192.5 L444.0,192.5 L446.0,192.6 L448.0,192.6 L450.0,192.6 L452.0,192.6 L454.0,192.7 L456.0,192.7 L458.0,192.7 L460.0,192.8 L462.0,192.8 L464.0,192.8 L466.0,192.8 L468.0,192.9 L470.0,192.9 L472.0,192.9 L474.0,192.9 L476.0,193.0 L478.0,193.0 L480.0,193.0 L482.0,193.0 L484.0,193.1 L486.0,193.1 L488.0,193.1 L490.0,193.1 L492.0,193.2 L494.0,193.2 L496.0,193.2 L498.0,193.2 L500.0,193.3 L502.0,193.3 L504.0,193.3 L506.0,193.3 L508.0,193.4 L510.0,193.4 L512.0,193.4 L514.0,193.5 L516.0,193.5 L518.0,193.5 L520.0,193.6 L522.0,193.6 L524.0,193.6 L526.0,193.7 L528.0,193.7 L530.0,193.7 L532.0,193.8 L534.0,193.8 L536.0,193.9 L538.0,193.9 L540.0,194.0 L542.0,194.1 L544.0,194.1 L546.0,194.2 L548.0,194.3 L550.0,194.3 L552.0,194.4 L554.0,194.5 L556.0,194.5 L558.0,194.6 L560.0,194.7 L562.0,194.8 L564.0,194.8 L566.0,194.9 L568.0,195.0 L570.0,195.1 L572.0,195.1 L574.0,195.2 L576.0,195.3 L578.0,195.3 L580.0,195.4 L582.0,195.5 L584.0,195.6 L586.0,195.6 L588.0,195.7 L590.0,195.8 L592.0,195.9 L594.0,195.9 L596.0,196.0 L598.0,196.1 L600.0,196.2 L602.0,196.2 L604.0,196.3 L606.0,196.4 L608.0,196.5 L610.0,196.6 L612.0,196.6 L614.0,196.7 L616.0,196.8 L618.0,196.9 L620.0,197.0 L622.0,197.0 L624.0,197.1 L626.0,197.2 L628.0,197.3 L630.0,197.4 L632.0,197.4 L634.0,197.5 L636.0,197.6 L638.0,197.7 L640.0,197.8 L642.0,197.8 L644.0,197.9 L646.0,198.0 L648.0,198.1 L650.0,198.1 L652.0,198.2 L654.0,198.3 L656.0,198.4 L658.0,198.4 L660.0,198.5 L662.0,198.6 L664.0,198.7 L666.0,198.8 L668.0,198.8 L670.0,198.9 L672.0,199.0 L674.0,199.1 L676.0,199.2 L678.0,199.3 L680.0,199.3 L682.0,199.4 L684.0,199.5 L686.0,199.6 L688.0,199.7 L690.0,199.8 L692.0,199.9 L694.0,200.0 L696.0,200.1 L698.0,200.2 L700.0,200.3 L702.0,200.4 L704.0,200.6 L706.0,200.7 L708.0,200.8 L710.0,200.9 L712.0,201.0 L714.0,201.2 L716.0,201.3 L718.0,201.4 L720.0,201.5 L722.0,201.6 L724.0,201.7 L726.0,201.8 L728.0,202.0 L730.0,202.1 L732.0,202.2 L734.0,202.3 L736.0,202.4 L738.0,202.5 L740.0,202.6 L742.0,202.7 L744.0,202.8 L746.0,202.9 L748.0,203.0 L750.0,203.1 L752.0,203.2 L754.0,203.4 L756.0,203.5 L758.0,203.6 L760.0,203.7 L762.0,203.8 L764.0,204.0 L766.0,204.1 L768.0,204.2 L770.0,204.3 L772.0,204.5 L774.0,204.6 L776.0,204.7 L778.0,204.9 L780.0,205.0 L782.0,205.1 L784.0,205.3 L786.0,205.4 L788.0,205.6 L790.0,205.7 L792.0,205.9 L794.0,206.0 L796.0,206.2 L798.0,206.3 L800.0,206.5 L802.0,206.7 L804.0,206.8 L806.0,207.0 L808.0,207.2 L810.0,207.4 L812.0,207.6 L814.0,207.8 L816.0,208.0 L818.0,208.2 L820.0,208.4 L822.0,208.6 L824.0,208.8 L826.0,209.0 L828.0,209.3 L830.0,209.5 L832.0,209.7 L834.0,210.0 L836.0,210.2 L838.0,210.4 L840.0,210.7 L842.0,210.9 L844.0,211.2 L846.0,211.4 L848.0,211.6 L850.0,211.9 L852.0,212.1 L854.0,212.4 L856.0,212.7 L858.0,212.9 L860.0,213.2 L862.0,213.5 L864.0,213.7 L866.0,214.0 L868.0,214.3 L870.0,214.6 L872.0,214.9 L874.0,215.1 L876.0,215.4 L878.0,215.7 L880.0,216.0 L882.0,216.3 L884.0,216.6 L886.0,216.9 L888.0,217.2 L890.0,217.5 L892.0,217.8 L894.0,218.1 L896.0,218.4 L898.0,218.7 L900.0,219.0 L902.0,219.4 L904.0,219.7 L906.0,220.0 L908.0,220.3 L910.0,220.7 L912.0,221.0 L914.0,221.3 L916.0,221.7 L918.0,222.0 L920.0,222.3 L922.0,222.7 L924.0,223.0 L926.0,223.4 L928.0,223.7 L930.0,224.0 L932.0,224.4 L934.0,224.7 L936.0,225.0 L938.0,225.3 L940.0,225.7 L942.0,226.0 L944.0,226.3 L946.0,226.7 L948.0,227.0 L950.0,227.3 L952.0,227.6 L954.0,228.0 L956.0,228.3 L958.0,228.6 L960.0,229.0 L962.0,229.3 L964.0,229.6 L966.0,230.0 L968.0,230.3 L970.0,230.6 L972.0,231.0 L974.0,231.3 L976.0,231.7 L978.0,232.0 L980.0,232.4 L982.0,232.7 L984.0,233.1 L986.0,233.4 L988.0,233.7 L990.0,234.1 L992.0,234.5 L994.0,234.8 L996.0,235.2 L998.0,235.5 L1000.0,235.9 L1002.0,236.2 L1004.0,236.6 L1006.0,237.0 L1008.0,237.4 L1010.0,237.7 L1012.0,238.1 L1014.0,238.5 L1016.0,238.9 L1018.0,239.3 L1020.0,239.7 L1022.0,240.0 L1024.0,240.4 L1026.0,240.8 L1028.0,241.2 L1030.0,241.6 L1032.0,242.0 L1034.0,242.4 L1036.0,242.8 L1038.0,243.3 L1040.0,243.7 L1042.0,244.1 L1044.0,244.6 L1046.0,245.0 L1048.0,245.4 L1050.0,245.9 L1052.0,246.4 L1054.0,246.8 L1056.0,247.3 L1058.0,247.9 L1060.0,248.4 L1062.0,249.0 L1064.0,249.5 L1066.0,250.0 L1068.0,250.5 L1070.0,250.9 L1072.0,251.4 L1074.0,251.8 L1076.0,252.3 L1078.0,252.8 L1080.0,253.2 L1082.0,253.8 L1084.0,254.3 L1086.0,254.8 L1088.0,255.4 L1090.0,256.0 L1092.0,256.5 L1094.0,257.1 L1096.0,257.7 L1098.0,258.3 L1100.0,258.9 L1102.0,259.5 L1104.0,260.1 L1106.0,260.7 L1108.0,261.3 L1110.0,261.9 L1112.0,262.4 L1114.0,263.0 L1116.0,263.6 L1118.0,264.2 L1120.0,264.8 L1122.0,265.4 L1124.0,266.0 L1126.0,266.7 L1128.0,267.4 L1130.0,268.1 L1132.0,268.8 L1134.0,269.6 L1136.0,270.3 L1138.0,271.0 L1140.0,271.8 L1142.0,272.5 L1144.0,273.2 L1146.0,274.0 L1148.0,274.8 L1150.0,275.6 L1152.0,276.4 L1154.0,277.3 L1156.0,278.3 L1158.0,279.2 L1160.0,280.2 L1162.0,281.2 L1164.0,282.3 L1166.0,283.3 L1168.0,284.3 L1170.0,285.4 L1172.0,286.5 L1174.0,287.6 L1176.0,288.7 L1178.0,289.9 L1180.0,291.0 L1182.0,292.2 L1184.0,293.5 L1186.0,294.8 L1188.0,296.1 L1190.0,297.4 L1192.0,298.8 L1194.0,300.3 L1196.0,301.8 L1198.0,303.3 L1200.0,304.8 L1202.0,306.3 L1204.0,307.8 L1206.0,309.4 L1208.0,310.9 L1210.0,312.5 L1212.0,314.1 L1214.0,315.7 L1216.0,317.3 L1218.0,318.8 L1220.0,320.4 L1222.0,321.9 L1224.0,323.5 L1226.0,325.1 L1228.0,326.7 L1230.0,328.4 L1232.0,330.1 L1234.0,331.9 L1236.0,333.8 L1238.0,335.8 L1240.0,337.9 L1242.0,340.1 L1243.9,342.5 L1245.8,344.9 L1247.6,347.4 L1249.3,349.9 L1251.0,352.4 L1252.6,354.9 L1254.3,357.4 L1255.9,359.9 L1257.6,362.4 L1259.3,364.9 L1261.0,367.4 L1262.7,369.9 L1264.3,372.3 L1266.0,374.8 L1267.7,377.3 L1269.3,379.8 L1271.0,382.3 L1272.7,384.9 L1274.3,387.4 L1276.0,389.9 L1277.6,392.4 L1279.2,394.9 L1280.9,397.4 L1282.5,399.9 L1284.2,402.4 L1285.8,405.0 L1287.4,407.5 L1289.0,410.0 L1290.6,412.6 L1292.2,415.2 L1293.8,417.7 L1295.4,420.3 L1296.9,422.9 L1298.5,425.4 L1300.0,428.0 L1301.5,430.6 L1303.0,433.2 L1304.5,435.9 L1306.0,438.5 L1307.5,441.2 L1308.9,443.8 L1310.3,446.5 L1311.7,449.2 L1313.0,451.9 L1314.4,454.6 L1315.7,457.4 L1316.9,460.1 L1318.2,462.8 L1319.5,465.6 L1320.7,468.3 L1321.9,471.1 L1323.1,473.9 L1324.3,476.6 L1325.5,479.4 L1326.7,482.2 L1327.8,485.0 L1329.0,487.8 L1330.1,490.6 L1331.2,493.4 L1332.3,496.2 L1333.4,499.0 L1334.4,501.9 L1335.5,504.7 L1336.5,507.5 L1337.5,510.3 L1338.6,513.2 L1339.6,516.0 L1340.6,518.8 L1341.6,521.7 L1342.6,524.5 L1343.6,527.3 L1344.6,530.2 L1345.6,533.0 L1346.6,535.8 L1347.6,538.7 L1348.6,541.5 L1349.6,544.3 L1350.6,547.2 L1351.6,550.0 L1352.5,552.9 L1353.5,555.7 L1354.5,558.6 L1355.4,561.4 L1356.4,564.3 L1357.3,567.1 L1358.2,570.0 L1359.2,572.9 L1360.1,575.8 L1361.0,578.6 L1361.9,581.5 L1362.7,584.4 L1363.6,587.3 L1364.5,590.2 L1365.3,593.1 L1366.1,596.0 L1367.0,598.9 L1367.8,601.8 L1368.6,604.7 L1369.4,607.6 L1370.2,610.5 L1370.9,613.4 L1371.7,616.3 L1372.5,619.2 L1373.3,622.1 L1374.0,625.0 L1374.8,628.0 L1375.6,630.9 L1376.3,633.8 L1377.1,636.7 L1377.9,639.6 L1378.6,642.5 L1379.4,645.4 L1380.2,648.3 L1381.0,651.1 L1381.7,654.0 L1382.5,657.0 L1383.3,659.9 L1384.0,662.8 L1384.8,665.7 L1385.6,668.6 L1386.3,671.5 L1387.1,674.4 L1387.8,677.3 L1388.6,680.2 L1389.4,683.1 L1390.1,686.0 L1390.8,688.9 L1391.6,691.8 L1392.3,694.8 L1393.1,697.7 L1393.8,700.6 L1394.5,703.5 L1395.3,706.4 L1396.0,709.4 L1396.7,712.3 L1397.4,715.2 L1398.1,718.1 L1398.8,721.1 L1399.5,724.0 L1400.2,726.9 L1400.9,729.9 L1401.5,732.8 L1402.2,735.7 L1402.9,738.7 L1403.5,741.6 L1404.2,744.6 L1404.8,747.5 L1405.5,750.5 L1406.1,753.4 L1406.7,756.4 L1407.3,759.3 L1408.0,762.2 L1408.6,765.2 L1409.2,768.1 L1409.8,771.1 L1410.4,774.0 L1411.0,777.0 L1411.6,779.9 L1412.2,782.9 L1412.7,785.8 L1413.3,788.8 L1413.9,791.7 L1414.5,794.6 L1415.1,797.6 L1415.7,800.5 L1416.3,803.5 L1416.9,806.4 L1417.5,809.4 L1418.0,812.3 L1418.6,815.2 L1419.2,818.2 L1419.8,821.1 L1420.4,824.0 L1421.0,827.0 L1421.6,829.9 L1422.2,832.8 L1422.8,835.8 L1423.4,838.7 L1424.0,841.7 L1424.6,844.6 L1425.2,847.5 L1425.8,850.5 L1426.4,853.4 L1427.0,856.4 L1427.6,859.3 L1428.2,862.3 L1428.8,865.2 L1429.4,868.2 L1430.0,871.1 L1430.6,874.1 L1431.1,877.0 L1431.7,880.0 L1432.3,882.9 L1432.9,885.9 L1433.4,888.8 L1434.0,891.8 L1434.6,894.7 L1435.1,897.7 L1435.7,900.7 L1436.2,903.6 L1436.8,906.6 L1437.3,909.6 L1437.8,912.5 L1438.4,915.5 L1438.9,918.5 L1439.4,921.4 L1439.9,924.4 L1440.4,927.4 L1440.9,930.3 L1441.4,933.3 L1441.9,936.2 L1442.4,939.2 L1442.9,942.2 L1443.4,945.1 L1443.9,948.1 L1444.4,951.0 L1444.9,954.0 L1445.4,957.0 L1445.9,959.9 L1446.4,962.9 L1446.9,965.8 L1447.4,968.8 L1448.0,971.7 L1448.5,974.7 L1449.0,977.6 L1449.5,980.6 L1450.0,983.5 L1450.5,986.5 L1451.1,989.4 L1451.6,992.4 L1452.1,995.3 L1452.6,998.3 L1453.2,1001.2 L1453.7,1004.2 L1454.2,1007.1 L1454.7,1010.1 L1455.3,1013.0 L1455.8,1016.0 L1456.3,1018.9 L1456.8,1021.9 L1457.4,1024.8 L1457.9,1027.8 L1458.4,1030.7 L1459.0,1033.7 L1459.5,1036.6 L1460.0,1039.6 L1460.6,1042.5 L1461.1,1045.5 L1461.6,1048.4 L1462.2,1051.4 L1462.7,1054.3 L1463.2,1057.3 L1463.8,1060.2 L1464.3,1063.2 L1464.9,1066.1 L1465.4,1069.1 L1465.9,1072.0 L1466.5,1075.0 L1467.0,1077.9 L1467.6,1080.9 L1468.1,1083.8 L1468.6,1086.8 L1469.2,1089.7 L1469.7,1092.7 L1470.3,1095.6 L1470.8,1098.6 L1471.3,1101.5 L1471.9,1104.5 L1472.4,1107.4 L1473.0,1110.4 L1473.5,1113.4 L1474.0,1116.3 L1474.6,1119.3 L1475.1,1122.2 L1475.6,1125.2 L1476.2,1128.1 L1476.7,1131.1 L1477.2,1134.0 L1477.8,1137.0 L1478.3,1139.9 L1478.8,1142.9 L1479.3,1145.8 L1479.9,1148.8 L1480.4,1151.8 L1480.9,1154.7 L1481.5,1157.7 L1482.0,1160.6 L1482.5,1163.6 L1483.1,1166.5 L1483.6,1169.5 L1484.1,1172.4 L1484.7,1175.4 L1485.2,1178.3 L1485.7,1181.3 L1486.3,1184.2 L1486.8,1187.2 L1487.3,1190.1 L1487.9,1193.1 L1488.4,1196.0 L1488.9,1199.0 L1489.5,1201.9 L1490.0,1204.9 L1490.6,1207.8 L1491.1,1210.8 L1491.6,1213.7 L1492.2,1216.7 L1492.7,1219.6 L1493.3,1222.5 L1493.8,1225.5 L1494.4,1228.4 L1494.9,1231.4 L1495.5,1234.3 L1496.0,1237.2 L1496.6,1240.2 L1497.2,1243.1 L1497.8,1246.0 L1498.3,1249.0 L1498.9,1251.9 L1499.5,1254.9 L1500.1,1257.8 L1500.7,1260.7 L1501.3,1263.6 L1501.9,1266.6 L1502.5,1269.5 L1503.1,1272.4 L1503.7,1275.3 L1504.3,1278.2 L1505.0,1281.1 L1505.6,1284.0 L1506.3,1286.9 L1506.9,1289.9 L1507.6,1292.8 L1508.3,1295.7 L1509.0,1298.5 L1509.7,1301.4 L1510.4,1304.3 L1511.2,1307.2 L1511.9,1310.1 L1512.7,1312.9 L1513.5,1315.8 L1514.3,1318.6 L1515.1,1321.5 L1516.0,1324.3 L1516.8,1327.1 L1517.7,1330.0 L1518.6,1332.8 L1519.5,1335.7 L1520.5,1338.5 L1521.4,1341.4 L1522.3,1344.3 L1523.2,1347.2 L1524.0,1350.1 L1524.9,1353.1 L1525.7,1356.0 L1526.4,1358.9 L1527.2,1361.9 L1528.0,1364.8 L1528.7,1367.7 L1529.5,1370.5 L1530.3,1373.4 L1531.1,1376.2 L1531.9,1379.0 L1532.8,1381.8 L1533.7,1384.5 L1534.8,1387.1 L1535.9,1389.8 L1537.2,1392.4 L1538.5,1395.0 L1539.9,1397.6 L1541.3,1400.2 L1542.8,1402.8 L1544.2,1405.5 L1545.6,1408.2 L1547.0,1410.8 L1548.4,1413.5 L1549.8,1416.1 L1551.3,1418.6 L1552.8,1421.1 L1554.4,1423.5 L1556.2,1425.7 L1558.1,1427.9 L1560.1,1429.9 L1562.1,1431.8 L1564.1,1433.6 L1566.1,1435.4 L1568.1,1437.2 L1570.1,1439.1 L1572.1,1440.7 L1574.1,1442.1 L1576.1,1443.0 L1578.1,1443.7 L1580.1,1444.3 L1582.1,1444.9 L1584.1,1445.3 L1586.1,1445.7 L1588.1,1446.0 L1590.1,1446.2 L1592.1,1446.4 L1594.1,1446.5 L1596.1,1446.7 L1598.1,1446.8 L1600.1,1446.9 L1602.1,1447.0 L1604.1,1447.0 L1606.1,1446.9 L1608.1,1446.8 L1610.1,1446.6 L1612.1,1446.4 L1614.1,1446.1 L1616.1,1445.8 L1618.1,1445.6 L1620.1,1445.3 L1622.1,1445.1 L1624.1,1444.9 L1626.1,1444.8 L1628.1,1444.8 L1630.1,1444.8 L1632.1,1444.8 L1634.1,1444.8 L1636.1,1444.8 L1638.1,1444.8 L1640.1,1444.8 L1642.1,1444.9 L1644.1,1444.9 L1646.1,1444.9 L1648.1,1444.9 L1650.1,1444.9 L1652.1,1444.9 L1654.1,1445.0 L1656.1,1445.0 L1658.1,1445.0 L1660.1,1445.0 L1662.1,1445.1 L1664.1,1445.1 L1666.1,1445.1 L1668.1,1445.1 L1670.1,1445.2 L1672.1,1445.2 L1674.1,1445.2 L1676.1,1445.2 L1678.1,1445.3 L1680.1,1445.3 L1682.1,1445.3 L1684.1,1445.3 L1686.1,1445.4 L1688.1,1445.4 L1690.1,1445.4 L1692.1,1445.4 L1694.1,1445.4 L1696.1,1445.5 L1698.1,1445.5 L1700.1,1445.5 L1702.1,1445.5 L1704.1,1445.5 L1706.1,1445.6 L1708.1,1445.6 L1710.1,1445.6 L1712.1,1445.6 L1714.1,1445.6 L1716.1,1445.6 L1718.1,1445.6 L1720.1,1445.6 L1722.1,1445.6 L1724.1,1445.6 L1726.1,1445.6 L1728.1,1445.6 L1730.1,1445.6 L1732.1,1445.6 L1734.1,1445.6 L1736.1,1445.6 L1738.1,1445.6 L1740.1,1445.6 L1742.1,1445.6 L1744.1,1445.6 L1746.1,1445.6 L1748.1,1445.6 L1750.1,1445.6 L1752.1,1445.6 L1754.1,1445.6 L1756.1,1445.6 L1758.1,1445.6 L1760.1,1445.5 L1762.1,1445.5 L1764.1,1445.5 L1766.1,1445.5 L1768.1,1445.5 L1770.1,1445.5 L1772.1,1445.5 L1774.1,1445.5 L1776.1,1445.5 L1778.1,1445.5 L1780.1,1445.5 L1782.1,1445.5 L1784.1,1445.5 L1786.1,1445.5 L1788.1,1445.5 L1790.1,1445.5 L1792.1,1445.5 L1794.1,1445.4 L1796.1,1445.4 L1798.1,1445.4 L1800.1,1445.4 L1802.1,1445.4 L1804.1,1445.4 L1806.1,1445.4 L1808.1,1445.4 L1810.1,1445.4 L1812.1,1445.4 L1814.1,1445.4 L1816.1,1445.4 L1818.1,1445.4 L1820.1,1445.4 L1822.1,1445.4 L1824.1,1445.3 L1826.1,1445.3 L1828.1,1445.3 L1830.1,1445.3 L1832.1,1445.3 L1834.1,1445.3 L1836.1,1445.3 L1838.1,1445.3 L1840.1,1445.3 L1842.1,1445.3 L1844.1,1445.3 L1846.1,1445.3 L1848.1,1445.3 L1850.1,1445.3 L1852.1,1445.3 L1854.1,1445.3 L1856.1,1445.3 L1858.1,1445.3 L1860.1,1445.2 L1862.1,1445.2 L1864.1,1445.2 L1866.1,1445.2 L1868.1,1445.2 L1870.1,1445.2 L1872.1,1445.2 L1874.1,1445.2 L1876.1,1445.2 L1878.1,1445.2 L1880.1,1445.2 L1882.1,1445.2 L1884.1,1445.2 L1886.1,1445.2 L1888.1,1445.2 L1890.1,1445.2 L1892.1,1445.2 L1894.1,1445.2 L1896.1,1445.2 L1898.1,1445.2 L1900.1,1445.2 L1902.1,1445.2 L1904.1,1445.2 L1906.1,1445.2 L1908.1,1445.2 L1910.1,1445.2 L1912.1,1445.2 L1914.1,1445.2 L1916.1,1445.2 L1918.1,1445.2 L1920.1,1445.2 L1922.1,1445.2 L1924.1,1445.2 L1926.1,1445.2 L1928.1,1445.2 L1930.1,1445.2 L1932.1,1445.2 L1934.1,1445.3 L1936.1,1445.3 L1938.1,1445.3 L1940.1,1445.3 L1942.1,1445.3 L1944.1,1445.3 L1946.1,1445.3 L1948.1,1445.3 L1950.1,1445.3 L1952.1,1445.3 L1954.1,1445.3 L1956.1,1445.3 L1958.1,1445.3 L1960.1,1445.4 L1962.1,1445.4 L1964.1,1445.4 L1966.1,1445.4 L1968.1,1445.4 L1970.1,1445.4 L1972.1,1445.4 L1974.1,1445.4 L1976.1,1445.4 L1978.1,1445.5 L1980.1,1445.5 L1982.1,1445.5 L1984.1,1445.5 L1986.1,1445.5 L1988.1,1445.5 L1990.1,1445.5 L1992.1,1445.5 L1994.1,1445.6 L1996.1,1445.6 L1998.1,1445.6 L2000.1,1445.6 L2002.1,1445.6 L2004.1,1445.6 L2006.1,1445.7 L2008.1,1445.7 L2010.1,1445.7 L2012.1,1445.7 L2014.1,1445.7 L2016.1,1445.7 L2018.1,1445.7 L2020.1,1445.8 L2022.1,1445.8 L2024.1,1445.8 L2026.1,1445.8 L2028.1,1445.8 L2030.1,1445.9 L2032.1,1445.9 L2034.1,1445.9 L2036.1,1445.9 L2038.1,1445.9 L2040.1,1445.9 L2042.1,1446.0 L2044.1,1446.0 L2046.1,1446.0 L2048.1,1446.0 L2050.1,1446.0 L2052.1,1446.1 L2054.1,1446.1 L2056.1,1446.1 L2058.1,1446.1 L2060.1,1446.1 L2062.1,1446.2 L2064.1,1446.2 L2066.1,1446.2 L2068.1,1446.2 L2070.1,1446.3 L2072.1,1446.3 L2074.1,1446.3 L2076.1,1446.3 L2078.1,1446.3 L2080.1,1446.4 L2082.1,1446.4 L2084.1,1446.4 L2086.1,1446.4 L2088.1,1446.5 L2090.1,1446.5 L2092.1,1446.5 L2094.1,1446.5 L2096.1,1446.5 L2098.1,1446.6 L2100.1,1446.6 L2101.0,1446.6" stroke="#000000" stroke-width="1.5" stroke-dasharray="7.6 2.7 1.8 2.7"/>
<path d="M266.0,191.0 L268.0,190.9 L270.0,190.9 L272.0,190.8 L274.0,190.7 L276.0,190.7 L278.0,190.6 L280.0,190.5 L282.0,190.5 L284.0,190.4 L286.0,190.3 L288.0,190.3 L290.0,190.2 L292.0,190.1 L294.0,190.0 L296.0,190.0 L298.0,189.9 L300.0,189.8 L302.0,189.7 L304.0,189.6 L306.0,189.6 L308.0,189.5 L310.0,189.4 L312.0,189.3 L314.0,189.2 L316.0,189.2 L318.0,189.1 L320.0,189.0 L322.0,188.9 L324.0,188.8 L326.0,188.7 L328.0,188.6 L330.0,188.6 L332.0,188.5 L334.0,188.4 L336.0,188.4 L338.0,188.3 L340.0,188.3 L342.0,188.3 L344.0,188.3 L346.0,188.3 L348.0,188.2 L350.0,188.2 L352.0,188.2 L354.0,188.2 L356.0,188.2 L358.0,188.2 L360.0,188.2 L362.0,188.2 L364.0,188.2 L366.0,188.2 L368.0,188.1 L370.0,188.1 L372.0,188.1 L374.0,188.1 L376.0,188.1 L378.0,188.1 L380.0,188.1 L382.0,188.1 L384.0,188.1 L386.0,188.1 L388.0,188.1 L390.0,188.1 L392.0,188.1 L394.0,188.1 L396.0,188.1 L398.0,188.1 L400.0,188.1 L402.0,188.1 L404.0,188.1 L406.0,188.1 L408.0,188.1 L410.0,188.1 L412.0,188.1 L414.0,188.2 L416.0,188.2 L418.0,188.2 L420.0,188.2 L422.0,188.2 L424.0,188.2 L426.0,188.2 L428.0,188.2 L430.0,188.3 L432.0,188.3 L434.0,188.3 L436.0,188.3 L438.0,188.3 L440.0,188.4 L442.0,188.4 L444.0,188.4 L446.0,188.4 L448.0,188.4 L450.0,188.5 L452.0,188.5 L454.0,188.6 L456.0,188.6 L458.0,188.7 L460.0,188.7 L462.0,188.8 L464.0,188.9 L466.0,188.9 L468.0,189.0 L470.0,189.0 L472.0,189.1 L474.0,189.2 L476.0,189.2 L478.0,189.3 L480.0,189.4 L482.0,189.4 L484.0,189.5 L486.0,189.6 L488.0,189.7 L490.0,189.7 L492.0,189.8 L494.0,189.9 L496.0,189.9 L498.0,190.0 L500.0,190.1 L502.0,190.1 L504.0,190.2 L506.0,190.2 L508.0,190.3 L510.0,190.3 L512.0,190.3 L514.0,190.4 L516.0,190.4 L518.0,190.5 L520.0,190.5 L522.0,190.6 L524.0,190.6 L526.0,190.7 L528.0,190.7 L530.0,190.8 L532.0,190.8 L534.0,190.9 L536.0,190.9 L538.0,190.9 L540.0,191.0 L542.0,191.0 L544.0,191.1 L546.0,191.1 L548.0,191.2 L550.0,191.3 L552.0,191.3 L554.0,191.4 L556.0,191.4 L558.0,191.5 L560.0,191.5 L562.0,191.6 L564.0,191.7 L566.0,191.7 L568.0,191.8 L570.0,191.9 L572.0,191.9 L574.0,192.0 L576.0,192.1 L578.0,192.2 L580.0,192.3 L582.0,192.3 L584.0,192.4 L586.0,192.5 L588.0,192.6 L590.0,192.7 L592.0,192.8 L594.0,192.9 L596.0,193.0 L598.0,193.0 L600.0,193.1 L602.0,193.2 L604.0,193.3 L606.0,193.4 L608.0,193.5 L610.0,193.6 L612.0,193.7 L614.0,193.7 L616.0,193.8 L618.0,193.9 L620.0,194.0 L622.0,194.0 L624.0,194.1 L626.0,194.2 L628.0,194.3 L630.0,194.3 L632.0,194.4 L634.0,194.5 L636.0,194.5 L638.0,194.6 L640.0,194.7 L642.0,194.7 L644.0,194.8 L646.0,194.9 L648.0,194.9 L650.0,195.0 L652.0,195.1 L654.0,195.1 L656.0,195.2 L658.0,195.3 L660.0,195.3 L662.0,195.4 L664.0,195.5 L666.0,195.6 L668.0,195.7 L670.0,195.8 L672.0,195.8 L674.0,195.9 L676.0,196.0 L678.0,196.1 L680.0,196.2 L682.0,196.3 L684.0,196.4 L686.0,196.5 L688.0,196.6 L690.0,196.7 L692.0,196.8 L694.0,196.9 L696.0,196.9 L698.0,197.0 L700.0,197.1 L702.0,197.2 L704.0,197.2 L706.0,197.3 L708.0,197.4 L710.0,197.5 L712.0,197.6 L714.0,197.7 L716.0,197.7 L718.0,197.8 L720.0,197.9 L722.0,198.0 L724.0,198.1 L726.0,198.2 L728.0,198.3 L730.0,198.4 L732.0,198.5 L734.0,198.6 L736.0,198.7 L738.0,198.8 L740.0,198.9 L742.0,199.1 L744.0,199.2 L746.0,199.3 L748.0,199.4 L750.0,199.5 L752.0,199.7 L754.0,199.8 L756.0,199.9 L758.0,200.0 L760.0,200.2 L762.0,200.3 L764.0,200.5 L766.0,200.6 L768.0,200.8 L770.0,200.9 L772.0,201.1 L774.0,201.3 L776.0,201.5 L778.0,201.7 L780.0,201.9 L782.0,202.0 L784.0,202.2 L786.0,202.4 L788.0,202.6 L790.0,202.9 L792.0,203.1 L794.0,203.3 L796.0,203.5 L798.0,203.7 L800.0,203.9 L802.0,204.1 L804.0,204.3 L806.0,204.5 L808.0,204.8 L810.0,205.0 L812.0,205.2 L814.0,205.4 L816.0,205.7 L818.0,205.9 L820.0,206.1 L822.0,206.3 L824.0,206.6 L826.0,206.8 L828.0,207.1 L830.0,207.3 L832.0,207.5 L834.0,207.8 L836.0,208.0 L838.0,208.3 L840.0,208.5 L842.0,208.8 L844.0,209.0 L846.0,209.3 L848.0,209.6 L850.0,209.8 L852.0,210.1 L854.0,210.3 L856.0,210.6 L858.0,210.9 L860.0,211.1 L862.0,211.4 L864.0,211.7 L866.0,212.0 L868.0,212.3 L870.0,212.5 L872.0,212.8 L874.0,213.1 L876.0,213.4 L878.0,213.7 L880.0,214.0 L882.0,214.3 L884.0,214.6 L886.0,214.8 L888.0,215.1 L890.0,215.4 L892.0,215.7 L894.0,216.0 L896.0,216.3 L898.0,216.7 L900.0,217.0 L902.0,217.3 L904.0,217.6 L906.0,217.9 L908.0,218.2 L910.0,218.5 L912.0,218.8 L914.0,219.2 L916.0,219.5 L918.0,219.8 L920.0,220.1 L922.0,220.4 L924.0,220.8 L926.0,221.1 L928.0,221.4 L930.0,221.7 L932.0,222.1 L934.0,222.4 L936.0,222.7 L938.0,223.1 L940.0,223.4 L942.0,223.8 L944.0,224.1 L946.0,224.4 L948.0,224.8 L950.0,225.1 L952.0,225.5 L954.0,225.8 L956.0,226.1 L958.0,226.5 L960.0,226.8 L962.0,227.2 L964.0,227.5 L966.0,227.8 L968.0,228.2 L970.0,228.5 L972.0,228.8 L974.0,229.2 L976.0,229.5 L978.0,229.8 L980.0,230.2 L982.0,230.5 L984.0,230.8 L986.0,231.2 L988.0,231.5 L990.0,231.8 L992.0,232.2 L994.0,232.5 L996.0,232.9 L998.0,233.2 L1000.0,233.5 L1002.0,233.9 L1004.0,234.2 L1006.0,234.6 L1008.0,235.0 L1010.0,235.3 L1012.0,235.7 L1014.0,236.0 L1016.0,236.4 L1018.0,236.7 L1020.0,237.1 L1022.0,237.4 L1024.0,237.8 L1026.0,238.2 L1028.0,238.5 L1030.0,238.9 L1032.0,239.3 L1034.0,239.6 L1036.0,240.0 L1038.0,240.4 L1040.0,240.8 L1042.0,241.2 L1044.0,241.6 L1046.0,242.0 L1048.0,242.4 L1050.0,242.9 L1052.0,243.3 L1054.0,243.8 L1056.0,244.2 L1058.0,244.7 L1060.0,245.2 L1062.0,245.7 L1064.0,246.2 L1066.0,246.7 L1068.0,247.2 L1070.0,247.7 L1072.0,248.2 L1074.0,248.7 L1076.0,249.2 L1078.0,249.7 L1080.0,250.2 L1082.0,250.7 L1084.0,251.2 L1086.0,251.7 L1088.0,252.3 L1090.0,252.8 L1092.0,253.3 L1094.0,253.8 L1096.0,254.4 L1098.0,254.9 L1100.0,255.5 L1102.0,256.0 L1104.0,256.6 L1106.0,257.1 L1108.0,257.7 L1110.0,258.2 L1112.0,258.8 L1114.0,259.4 L1116.0,260.0 L1118.0,260.6 L1120.0,261.2 L1122.0,261.8 L1124.0,262.4 L1126.0,263.0 L1128.0,263.6 L1130.0,264.2 L1132.0,264.9 L1134.0,265.5 L1136.0,266.2 L1138.0,266.9 L1140.0,267.6 L1142.0,268.3 L1144.0,269.0 L1146.0,269.8 L1148.0,270.6 L1150.0,271.4 L1152.0,272.2 L1154.0,273.1 L1156.0,274.0 L1158.0,274.9 L1160.0,275.8 L1162.0,276.8 L1164.0,277.7 L1166.0,278.8 L1168.0,279.8 L1170.0,280.9 L1172.0,282.0 L1174.0,283.2 L1176.0,284.4 L1178.0,285.6 L1180.0,286.9 L1182.0,288.2 L1184.0,289.6 L1186.0,290.9 L1188.0,292.3 L1190.0,293.7 L1192.0,295.2 L1194.0,296.7 L1196.0,298.2 L1198.0,299.8 L1200.0,301.4 L1202.0,303.0 L1204.0,304.7 L1206.0,306.4 L1208.0,308.2 L1210.0,309.9 L1212.0,311.7 L1214.0,313.5 L1216.0,315.3 L1218.0,317.2 L1220.0,319.0 L1222.0,320.9 L1224.0,322.7 L1226.0,324.6 L1228.0,326.6 L1230.0,328.6 L1232.0,330.7 L1234.0,332.8 L1236.0,335.0 L1238.0,337.2 L1240.0,339.6 L1241.9,342.0 L1243.7,344.4 L1245.5,346.9 L1247.2,349.3 L1248.9,351.8 L1250.6,354.3 L1252.3,356.8 L1254.0,359.3 L1255.6,361.8 L1257.3,364.2 L1259.0,366.7 L1260.7,369.2 L1262.4,371.7 L1264.1,374.2 L1265.8,376.7 L1267.4,379.2 L1269.1,381.7 L1270.7,384.2 L1272.4,386.7 L1274.0,389.2 L1275.7,391.7 L1277.3,394.2 L1279.0,396.8 L1280.6,399.3 L1282.3,401.8 L1283.9,404.3 L1285.5,406.8 L1287.1,409.4 L1288.7,411.9 L1290.3,414.5 L1291.9,417.1 L1293.5,419.6 L1295.0,422.2 L1296.6,424.8 L1298.1,427.4 L1299.6,430.0 L1301.2,432.6 L1302.7,435.2 L1304.1,437.8 L1305.6,440.5 L1307.0,443.1 L1308.4,445.8 L1309.8,448.5 L1311.2,451.2 L1312.5,453.9 L1313.8,456.7 L1315.1,459.4 L1316.4,462.1 L1317.6,464.9 L1318.9,467.6 L1320.1,470.4 L1321.3,473.2 L1322.5,475.9 L1323.7,478.7 L1324.9,481.5 L1326.0,484.3 L1327.2,487.0 L1328.3,489.9 L1329.4,492.7 L1330.5,495.5 L1331.6,498.3 L1332.6,501.1 L1333.7,503.9 L1334.7,506.8 L1335.8,509.6 L1336.8,512.4 L1337.8,515.3 L1338.8,518.1 L1339.9,520.9 L1340.9,523.8 L1341.9,526.6 L1342.9,529.4 L1343.9,532.2 L1344.9,535.1 L1345.9,537.9 L1346.8,540.7 L1347.8,543.6 L1348.8,546.4 L1349.8,549.3 L1350.8,552.1 L1351.8,555.0 L1352.7,557.8 L1353.7,560.7 L1354.6,563.5 L1355.6,566.4 L1356.5,569.3 L1357.4,572.1 L1358.3,575.0 L1359.2,577.9 L1360.1,580.8 L1361.0,583.7 L1361.9,586.6 L1362.7,589.4 L1363.6,592.3 L1364.4,595.2 L1365.3,598.2 L1366.1,601.1 L1366.9,604.0 L1367.7,606.9 L1368.5,609.8 L1369.3,612.7 L1370.0,615.6 L1370.8,618.5 L1371.6,621.4 L1372.4,624.3 L1373.1,627.2 L1373.9,630.1 L1374.7,633.0 L1375.4,635.9 L1376.2,638.8 L1376.9,641.7 L1377.7,644.6 L1378.5,647.5 L1379.2,650.4 L1380.0,653.3 L1380.7,656.2 L1381.5,659.1 L1382.2,662.1 L1383.0,665.0 L1383.7,667.9 L1384.5,670.8 L1385.2,673.7 L1386.0,676.6 L1386.7,679.5 L1387.5,682.4 L1388.2,685.4 L1388.9,688.3 L1389.6,691.2 L1390.4,694.1 L1391.1,697.0 L1391.8,700.0 L1392.5,702.9 L1393.2,705.8 L1393.9,708.7 L1394.6,711.6 L1395.3,714.6 L1396.0,717.5 L1396.7,720.4 L1397.4,723.4 L1398.1,726.3 L1398.7,729.2 L1399.4,732.2 L1400.1,735.1 L1400.7,738.0 L1401.4,741.0 L1402.0,743.9 L1402.7,746.9 L1403.3,749.8 L1403.9,752.8 L1404.6,755.7 L1405.2,758.7 L1405.8,761.6 L1406.4,764.6 L1407.0,767.5 L1407.6,770.4 L1408.2,773.4 L1408.8,776.3 L1409.4,779.3 L1410.0,782.2 L1410.6,785.2 L1411.2,788.1 L1411.8,791.1 L1412.4,794.0 L1413.0,796.9 L1413.6,799.9 L1414.1,802.8 L1414.7,805.8 L1415.3,808.7 L1415.9,811.6 L1416.5,814.6 L1417.1,817.5 L1417.7,820.5 L1418.3,823.4 L1418.9,826.3 L1419.5,829.3 L1420.1,832.2 L1420.7,835.1 L1421.3,838.1 L1421.9,841.0 L1422.5,844.0 L1423.1,846.9 L1423.7,849.8 L1424.3,852.8 L1424.9,855.7 L1425.5,858.7 L1426.1,861.6 L1426.7,864.6 L1427.3,867.5 L1427.8,870.5 L1428.4,873.4 L1429.0,876.4 L1429.6,879.3 L1430.2,882.3 L1430.7,885.2 L1431.3,888.2 L1431.9,891.1 L1432.4,894.1 L1433.0,897.0 L1433.6,900.0 L1434.1,903.0 L1434.6,905.9 L1435.2,908.9 L1435.7,911.9 L1436.2,914.8 L1436.8,917.8 L1437.3,920.8 L1437.8,923.7 L1438.3,926.7 L1438.8,929.7 L1439.3,932.6 L1439.8,935.6 L1440.3,938.6 L1440.8,941.5 L1441.3,944.5 L1441.8,947.4 L1442.3,950.4 L1442.8,953.4 L1443.3,956.3 L1443.8,959.3 L1444.3,962.2 L1444.8,965.2 L1445.3,968.1 L1445.8,971.1 L1446.4,974.0 L1446.9,977.0 L1447.4,979.9 L1447.9,982.9 L1448.4,985.8 L1448.9,988.8 L1449.5,991.7 L1450.0,994.7 L1450.5,997.6 L1451.0,1000.6 L1451.6,1003.5 L1452.1,1006.5 L1452.6,1009.4 L1453.1,1012.4 L1453.7,1015.3 L1454.2,1018.3 L1454.7,1021.2 L1455.3,1024.2 L1455.8,1027.1 L1456.3,1030.1 L1456.8,1033.0 L1457.4,1036.0 L1457.9,1038.9 L1458.4,1041.9 L1459.0,1044.8 L1459.5,1047.8 L1460.0,1050.7 L1460.6,1053.7 L1461.1,1056.7 L1461.6,1059.6 L1462.2,1062.6 L1462.7,1065.5 L1463.2,1068.5 L1463.8,1071.4 L1464.3,1074.4 L1464.8,1077.3 L1465.4,1080.3 L1465.9,1083.2 L1466.5,1086.2 L1467.0,1089.1 L1467.5,1092.0 L1468.1,1095.0 L1468.6,1097.9 L1469.2,1100.9 L1469.7,1103.8 L1470.3,1106.8 L1470.8,1109.7 L1471.4,1112.7 L1471.9,1115.6 L1472.5,1118.6 L1473.0,1121.5 L1473.6,1124.5 L1474.1,1127.4 L1474.7,1130.4 L1475.2,1133.3 L1475.8,1136.2 L1476.3,1139.2 L1476.9,1142.1 L1477.5,1145.1 L1478.0,1148.0 L1478.6,1151.0 L1479.1,1153.9 L1479.7,1156.9 L1480.3,1159.8 L1480.8,1162.7 L1481.4,1165.7 L1482.0,1168.6 L1482.5,1171.6 L1483.1,1174.5 L1483.7,1177.4 L1484.3,1180.4 L1484.9,1183.3 L1485.4,1186.2 L1486.0,1189.2 L1486.6,1192.1 L1487.2,1195.0 L1487.8,1198.0 L1488.4,1200.9 L1489.0,1203.9 L1489.6,1206.8 L1490.2,1209.7 L1490.8,1212.7 L1491.4,1215.6 L1492.0,1218.5 L1492.6,1221.4 L1493.2,1224.4 L1493.9,1227.3 L1494.5,1230.2 L1495.1,1233.1 L1495.7,1236.0 L1496.4,1239.0 L1497.0,1241.9 L1497.7,1244.8 L1498.4,1247.7 L1499.0,1250.6 L1499.7,1253.5 L1500.4,1256.4 L1501.1,1259.3 L1501.8,1262.3 L1502.5,1265.2 L1503.2,1268.1 L1503.9,1271.0 L1504.6,1273.9 L1505.3,1276.8 L1506.0,1279.6 L1506.8,1282.5 L1507.5,1285.4 L1508.3,1288.3 L1509.0,1291.1 L1509.8,1294.0 L1510.7,1296.8 L1511.5,1299.7 L1512.3,1302.5 L1513.2,1305.4 L1514.1,1308.2 L1515.0,1311.1 L1515.9,1313.9 L1516.9,1316.7 L1517.8,1319.5 L1518.8,1322.3 L1519.8,1325.1 L1520.8,1328.0 L1521.8,1330.8 L1522.8,1333.6 L1523.8,1336.4 L1524.9,1339.2 L1525.9,1342.0 L1526.9,1344.9 L1527.9,1347.6 L1529.0,1350.4 L1530.1,1353.2 L1531.2,1355.9 L1532.4,1358.5 L1533.6,1361.1 L1535.0,1363.5 L1536.6,1365.9 L1538.3,1368.3 L1540.1,1370.6 L1542.0,1372.9 L1543.9,1375.2 L1545.8,1377.7 L1547.5,1380.2 L1549.2,1382.7 L1551.0,1385.0 L1552.8,1387.2 L1554.8,1389.0 L1556.8,1390.3 L1558.8,1391.3 L1560.8,1392.3 L1562.8,1393.1 L1564.8,1394.1 L1566.8,1395.3 L1568.8,1396.8 L1570.8,1398.2 L1572.8,1399.4 L1574.8,1400.1 L1576.8,1400.2 L1578.8,1400.2 L1580.8,1400.2 L1582.8,1400.2 L1584.8,1400.1 L1586.8,1400.1 L1588.8,1400.1 L1590.8,1400.0 L1592.8,1400.0 L1594.8,1399.9 L1596.8,1399.9 L1598.8,1399.8 L1600.8,1399.7 L1602.8,1399.6 L1604.8,1399.4 L1606.8,1399.1 L1608.8,1398.8 L1610.8,1398.4 L1612.8,1398.1 L1614.8,1397.8 L1616.8,1397.6 L1618.8,1397.5 L1620.8,1397.4 L1622.8,1397.3 L1624.8,1397.2 L1626.8,1397.1 L1628.8,1397.1 L1630.8,1397.0 L1632.8,1397.0 L1634.8,1396.9 L1636.8,1396.9 L1638.8,1396.9 L1640.8,1396.9 L1642.8,1396.9 L1644.8,1396.9 L1646.8,1396.9 L1648.8,1396.9 L1650.8,1396.9 L1652.8,1396.9 L1654.8,1396.9 L1656.8,1396.9 L1658.8,1397.0 L1660.8,1397.0 L1662.8,1397.0 L1664.8,1397.0 L1666.8,1397.0 L1668.8,1397.0 L1670.8,1397.0 L1672.8,1397.0 L1674.8,1397.1 L1676.8,1397.1 L1678.8,1397.1 L1680.8,1397.1 L1682.8,1397.1 L1684.8,1397.1 L1686.8,1397.2 L1688.8,1397.2 L1690.8,1397.2 L1692.8,1397.2 L1694.8,1397.2 L1696.8,1397.2 L1698.8,1397.2 L1700.8,1397.3 L1702.8,1397.3 L1704.8,1397.3 L1706.8,1397.3 L1708.8,1397.3 L1710.8,1397.3 L1712.8,1397.4 L1714.8,1397.4 L1716.8,1397.4 L1718.8,1397.4 L1720.8,1397.4 L1722.8,1397.4 L1724.8,1397.4 L1726.8,1397.4 L1728.8,1397.4 L1730.8,1397.5 L1732.8,1397.5 L1734.8,1397.5 L1736.8,1397.5 L1738.8,1397.5 L1740.8,1397.5 L1742.8,1397.5 L1744.8,1397.5 L1746.8,1397.5 L1748.8,1397.5 L1750.8,1397.5 L1752.8,1397.5 L1754.8,1397.5 L1756.8,1397.5 L1758.8,1397.5 L1760.8,1397.5 L1762.8,1397.5 L1764.8,1397.6 L1766.8,1397.6 L1768.8,1397.6 L1770.8,1397.6 L1772.8,1397.6 L1774.8,1397.6 L1776.8,1397.6 L1778.8,1397.6 L1780.8,1397.6 L1782.8,1397.6 L1784.8,1397.6 L1786.8,1397.6 L1788.8,1397.7 L1790.8,1397.7 L1792.8,1397.7 L1794.8,1397.7 L1796.8,1397.7 L1798.8,1397.7 L1800.8,1397.7 L1802.8,1397.8 L1804.8,1397.8 L1806.8,1397.8 L1808.8,1397.8 L1810.8,1397.9 L1812.8,1397.9 L1814.8,1397.9 L1816.8,1397.9 L1818.8,1398.0 L1820.8,1398.0 L1822.8,1398.4 L1824.8,1398.6 L1826.8,1398.6 L1828.8,1398.6 L1830.8,1398.6 L1832.8,1398.6 L1834.8,1398.6 L1836.8,1398.6 L1838.8,1398.6 L1840.8,1398.6 L1842.8,1398.6 L1844.8,1398.6 L1846.8,1398.6 L1848.8,1398.6 L1850.8,1398.6 L1852.8,1398.6 L1854.8,1398.6 L1856.8,1398.6 L1858.8,1398.6 L1860.8,1398.6 L1862.8,1398.6 L1864.8,1398.6 L1866.8,1398.6 L1868.8,1398.6 L1870.8,1398.6 L1872.8,1398.6 L1874.8,1398.6 L1876.8,1398.6 L1878.8,1398.6 L1880.8,1398.6 L1882.8,1398.6 L1884.8,1398.6 L1886.8,1398.6 L1888.8,1398.6 L1890.8,1398.6 L1892.8,1398.6 L1894.8,1398.6 L1896.8,1398.6 L1898.8,1398.6 L1900.8,1398.6 L1902.8,1398.6 L1904.8,1398.6 L1906.8,1398.6 L1908.8,1398.6 L1910.8,1398.6 L1912.8,1398.6 L1914.8,1398.6 L1916.8,1398.6 L1918.8,1398.6 L1920.8,1398.6 L1922.8,1398.6 L1924.8,1398.6 L1926.8,1398.6 L1928.8,1398.6 L1930.8,1398.6 L1932.8,1398.6 L1934.8,1398.6 L1936.8,1398.6 L1938.8,1398.6 L1940.8,1398.6 L1942.8,1398.6 L1944.8,1398.6 L1946.8,1398.6 L1948.8,1398.6 L1950.8,1398.6 L1952.8,1398.6 L1954.8,1398.6 L1956.8,1398.6 L1958.8,1398.6 L1960.8,1398.6 L1962.8,1398.6 L1964.8,1398.6 L1966.8,1398.6 L1968.8,1398.6 L1970.8,1398.6 L1972.8,1398.6 L1974.8,1398.6 L1976.8,1398.6 L1978.8,1398.6 L1980.8,1398.6 L1982.8,1398.6 L1984.8,1398.6 L1986.8,1398.6 L1988.8,1398.6 L1990.8,1398.6 L1992.8,1398.6 L1994.8,1398.6 L1996.8,1398.6 L1998.8,1398.6 L2000.8,1398.6 L2002.8,1398.6 L2004.8,1398.6 L2006.8,1398.6 L2008.8,1398.6 L2010.8,1398.6 L2012.8,1398.6 L2014.8,1398.6 L2016.8,1398.6 L2018.8,1398.6 L2020.8,1398.6 L2022.8,1398.6 L2024.8,1398.6 L2026.8,1398.6 L2028.8,1398.6 L2030.8,1398.6 L2032.8,1398.6 L2034.8,1398.6 L2036.8,1398.6 L2038.8,1398.6 L2040.8,1398.6 L2042.8,1398.6 L2044.8,1398.6 L2046.8,1398.6 L2048.8,1398.6 L2050.8,1398.6 L2052.8,1398.6 L2054.8,1398.6 L2056.8,1398.6 L2058.8,1398.6 L2060.8,1398.6 L2062.8,1398.6 L2064.8,1398.6 L2066.8,1398.6 L2068.8,1398.6 L2070.8,1398.6 L2072.8,1398.6 L2074.8,1398.6 L2076.8,1398.6 L2078.8,1398.6 L2080.8,1398.6 L2082.8,1398.6 L2084.8,1398.6 L2086.8,1398.6 L2088.8,1398.6 L2090.8,1398.6 L2092.8,1398.6 L2094.8,1398.6 L2096.8,1398.6 L2098.8,1398.6 L2100.8,1398.6 L2101.0,1398.6" stroke="#0000ff" stroke-width="1.7"/>
<path d="M266.0,195.2 L268.0,195.2 L270.0,195.2 L272.0,195.3 L274.0,195.3 L276.0,195.4 L278.0,195.5 L280.0,196.0 L282.0,197.8 L284.0,199.3 L286.0,199.4 L288.0,199.4 L290.0,199.4 L292.0,199.4 L294.0,199.3 L296.0,199.2 L298.0,199.1 L300.0,199.0 L302.0,198.9 L304.0,198.8 L306.0,198.6 L308.0,198.4 L310.0,198.1 L312.0,197.9 L314.0,197.6 L316.0,197.4 L318.0,197.1 L320.0,196.9 L322.0,196.7 L324.0,196.5 L326.0,196.2 L328.0,196.0 L330.0,195.8 L332.0,195.6 L334.0,195.4 L336.0,195.2 L338.0,195.0 L340.0,194.8 L342.0,194.5 L344.0,194.3 L346.0,194.1 L348.0,193.9 L350.0,193.7 L352.0,193.5 L354.0,193.3 L356.0,193.1 L358.0,192.9 L360.0,192.7 L362.0,192.5 L364.0,192.2 L366.0,192.0 L368.0,191.8 L370.0,191.6 L372.0,191.4 L374.0,191.3 L376.0,191.2 L378.0,191.0 L380.0,190.9 L382.0,190.8 L384.0,190.7 L386.0,190.6 L388.0,190.5 L390.0,190.5 L392.0,190.4 L394.0,190.3 L396.0,190.3 L398.0,190.3 L400.0,190.2 L402.0,190.2 L404.0,190.1 L406.0,190.1 L408.0,190.1 L410.0,190.0 L412.0,190.0 L414.0,190.0 L416.0,189.9 L418.0,189.9 L420.0,189.9 L422.0,189.9 L424.0,189.8 L426.0,189.8 L428.0,189.8 L430.0,189.8 L432.0,189.8 L434.0,189.8 L436.0,189.8 L438.0,189.8 L440.0,189.8 L442.0,189.7 L444.0,189.7 L446.0,189.7 L448.0,189.7 L450.0,189.7 L452.0,189.7 L454.0,189.7 L456.0,189.7 L458.0,189.7 L460.0,189.7 L462.0,189.7 L464.0,189.7 L466.0,189.7 L468.0,189.7 L470.0,189.7 L472.0,189.7 L474.0,189.8 L476.0,189.8 L478.0,189.8 L480.0,189.8 L482.0,189.9 L484.0,189.9 L486.0,189.9 L488.0,190.0 L490.0,190.0 L492.0,190.1 L494.0,190.1 L496.0,190.2 L498.0,190.2 L500.0,190.3 L502.0,190.3 L504.0,190.4 L506.0,190.4 L508.0,190.5 L510.0,190.5 L512.0,190.5 L514.0,190.6 L516.0,190.6 L518.0,190.7 L520.0,190.7 L522.0,190.7 L524.0,190.8 L526.0,190.8 L528.0,190.8 L530.0,190.9 L532.0,190.9 L534.0,190.9 L536.0,191.0 L538.0,191.0 L540.0,191.0 L542.0,191.1 L544.0,191.1 L546.0,191.2 L548.0,191.2 L550.0,191.2 L552.0,191.3 L554.0,191.3 L556.0,191.4 L558.0,191.5 L560.0,191.5 L562.0,191.6 L564.0,191.7 L566.0,191.8 L568.0,191.8 L570.0,191.9 L572.0,192.0 L574.0,192.1 L576.0,192.2 L578.0,192.3 L580.0,192.4 L582.0,192.5 L584.0,192.6 L586.0,192.7 L588.0,192.7 L590.0,192.8 L592.0,192.9 L594.0,193.0 L596.0,193.0 L598.0,193.1 L600.0,193.2 L602.0,193.2 L604.0,193.3 L606.0,193.4 L608.0,193.4 L610.0,193.5 L612.0,193.6 L614.0,193.6 L616.0,193.7 L618.0,193.8 L620.0,193.8 L622.0,193.9 L624.0,194.0 L626.0,194.0 L628.0,194.1 L630.0,194.2 L632.0,194.2 L634.0,194.3 L636.0,194.3 L638.0,194.4 L640.0,194.5 L642.0,194.5 L644.0,194.6 L646.0,194.7 L648.0,194.7 L650.0,194.8 L652.0,194.9 L654.0,194.9 L656.0,195.0 L658.0,195.1 L660.0,195.1 L662.0,195.2 L664.0,195.3 L666.0,195.3 L668.0,195.4 L670.0,195.5 L672.0,195.5 L674.0,195.6 L676.0,195.7 L678.0,195.7 L680.0,195.8 L682.0,195.9 L684.0,195.9 L686.0,196.0 L688.0,196.1 L690.0,196.1 L692.0,196.2 L694.0,196.2 L696.0,196.3 L698.0,196.4 L700.0,196.4 L702.0,196.5 L704.0,196.6 L706.0,196.6 L708.0,196.7 L710.0,196.8 L712.0,196.8 L714.0,196.9 L716.0,197.0 L718.0,197.1 L720.0,197.2 L722.0,197.2 L724.0,197.3 L726.0,197.4 L728.0,197.5 L730.0,197.6 L732.0,197.7 L734.0,197.8 L736.0,197.9 L738.0,198.0 L740.0,198.1 L742.0,198.2 L744.0,198.4 L746.0,198.5 L748.0,198.6 L750.0,198.7 L752.0,198.9 L754.0,199.0 L756.0,199.1 L758.0,199.2 L760.0,199.4 L762.0,199.5 L764.0,199.7 L766.0,199.8 L768.0,200.0 L770.0,200.2 L772.0,200.4 L774.0,200.5 L776.0,200.7 L778.0,200.9 L780.0,201.1 L782.0,201.3 L784.0,201.5 L786.0,201.7 L788.0,201.9 L790.0,202.1 L792.0,202.3 L794.0,202.5 L796.0,202.6 L798.0,202.8 L800.0,203.0 L802.0,203.2 L804.0,203.3 L806.0,203.5 L808.0,203.7 L810.0,203.9 L812.0,204.1 L814.0,204.2 L816.0,204.4 L818.0,204.6 L820.0,204.8 L822.0,205.0 L824.0,205.2 L826.0,205.4 L828.0,205.5 L830.0,205.7 L832.0,205.9 L834.0,206.1 L836.0,206.3 L838.0,206.5 L840.0,206.7 L842.0,206.9 L844.0,207.1 L846.0,207.3 L848.0,207.5 L850.0,207.7 L852.0,207.9 L854.0,208.1 L856.0,208.4 L858.0,208.6 L860.0,208.8 L862.0,209.0 L864.0,209.3 L866.0,209.5 L868.0,209.7 L870.0,210.0 L872.0,210.2 L874.0,210.5 L876.0,210.7 L878.0,211.0 L880.0,211.3 L882.0,211.5 L884.0,211.8 L886.0,212.1 L888.0,212.4 L890.0,212.6 L892.0,212.9 L894.0,213.2 L896.0,213.5 L898.0,213.7 L900.0,214.0 L902.0,214.3 L904.0,214.6 L906.0,214.9 L908.0,215.2 L910.0,215.5 L912.0,215.8 L914.0,216.1 L916.0,216.4 L918.0,216.7 L920.0,217.0 L922.0,217.3 L924.0,217.6 L926.0,217.9 L928.0,218.2 L930.0,218.5 L932.0,218.8 L934.0,219.2 L936.0,219.5 L938.0,219.8 L940.0,220.2 L942.0,220.5 L944.0,220.8 L946.0,221.2 L948.0,221.5 L950.0,221.9 L952.0,222.2 L954.0,222.6 L956.0,222.9 L958.0,223.3 L960.0,223.6 L962.0,224.0 L964.0,224.3 L966.0,224.7 L968.0,225.0 L970.0,225.4 L972.0,225.7 L974.0,226.1 L976.0,226.4 L978.0,226.7 L980.0,227.1 L982.0,227.4 L984.0,227.7 L986.0,228.1 L988.0,228.4 L990.0,228.8 L992.0,229.1 L994.0,229.4 L996.0,229.8 L998.0,230.1 L1000.0,230.5 L1002.0,230.8 L1004.0,231.2 L1006.0,231.5 L1008.0,231.9 L1010.0,232.2 L1012.0,232.6 L1014.0,233.0 L1016.0,233.3 L1018.0,233.7 L1020.0,234.0 L1022.0,234.4 L1024.0,234.8 L1026.0,235.1 L1028.0,235.5 L1030.0,235.9 L1032.0,236.2 L1034.0,236.6 L1036.0,237.0 L1038.0,237.3 L1040.0,237.7 L1042.0,238.1 L1044.0,238.4 L1046.0,238.8 L1048.0,239.2 L1050.0,239.6 L1052.0,239.9 L1054.0,240.3 L1056.0,240.7 L1058.0,241.1 L1060.0,241.5 L1062.0,241.8 L1064.0,242.2 L1066.0,242.6 L1068.0,243.0 L1070.0,243.4 L1072.0,243.8 L1074.0,244.2 L1076.0,244.6 L1078.0,245.0 L1080.0,245.5 L1082.0,245.9 L1084.0,246.3 L1086.0,246.8 L1088.0,247.2 L1090.0,247.7 L1092.0,248.2 L1094.0,248.7 L1096.0,249.1 L1098.0,249.6 L1100.0,250.1 L1102.0,250.7 L1104.0,251.2 L1106.0,251.7 L1108.0,252.2 L1110.0,252.8 L1112.0,253.3 L1114.0,253.9 L1116.0,254.5 L1118.0,255.1 L1120.0,255.7 L1122.0,256.3 L1124.0,256.9 L1126.0,257.5 L1128.0,258.2 L1130.0,258.9 L1132.0,259.6 L1134.0,260.3 L1136.0,261.0 L1138.0,261.7 L1140.0,262.5 L1142.0,263.3 L1144.0,264.0 L1146.0,264.8 L1148.0,265.7 L1150.0,266.5 L1152.0,267.4 L1154.0,268.2 L1156.0,269.1 L1158.0,270.1 L1160.0,271.0 L1162.0,272.0 L1164.0,273.0 L1166.0,274.0 L1168.0,275.1 L1170.0,276.2 L1172.0,277.3 L1174.0,278.5 L1176.0,279.6 L1178.0,280.8 L1180.0,281.9 L1182.0,283.2 L1184.0,284.4 L1186.0,285.6 L1188.0,286.9 L1190.0,288.2 L1192.0,289.6 L1194.0,291.0 L1196.0,292.4 L1198.0,293.9 L1200.0,295.4 L1202.0,297.0 L1204.0,298.6 L1206.0,300.2 L1208.0,301.8 L1210.0,303.4 L1212.0,305.1 L1214.0,306.8 L1216.0,308.5 L1218.0,310.2 L1220.0,312.0 L1222.0,313.8 L1224.0,315.7 L1226.0,317.6 L1228.0,319.5 L1230.0,321.4 L1232.0,323.4 L1234.0,325.4 L1236.0,327.5 L1238.0,329.5 L1240.0,331.7 L1242.0,333.8 L1244.0,335.9 L1246.0,338.1 L1248.0,340.3 L1250.0,342.5 L1252.0,344.7 L1254.0,346.9 L1256.0,349.2 L1258.0,351.4 L1260.0,353.6 L1262.0,355.8 L1264.0,358.0 L1266.0,360.3 L1267.9,362.7 L1269.8,365.1 L1271.6,367.5 L1273.4,370.0 L1275.1,372.5 L1276.8,375.0 L1278.4,377.6 L1280.0,380.1 L1281.6,382.7 L1283.2,385.2 L1284.8,387.8 L1286.4,390.3 L1288.0,392.9 L1289.5,395.4 L1291.1,398.0 L1292.7,400.6 L1294.2,403.2 L1295.8,405.7 L1297.3,408.3 L1298.8,410.9 L1300.3,413.6 L1301.8,416.2 L1303.3,418.8 L1304.7,421.5 L1306.2,424.1 L1307.6,426.8 L1309.0,429.4 L1310.4,432.1 L1311.8,434.8 L1313.1,437.5 L1314.5,440.2 L1315.8,442.9 L1317.1,445.6 L1318.4,448.3 L1319.7,451.1 L1321.0,453.8 L1322.2,456.5 L1323.5,459.3 L1324.7,462.0 L1325.9,464.8 L1327.1,467.6 L1328.3,470.3 L1329.5,473.1 L1330.7,475.9 L1331.8,478.7 L1333.0,481.5 L1334.1,484.3 L1335.2,487.0 L1336.3,489.8 L1337.5,492.6 L1338.6,495.4 L1339.7,498.2 L1340.8,501.0 L1341.8,503.8 L1342.9,506.7 L1344.0,509.5 L1345.0,512.3 L1346.1,515.1 L1347.1,518.0 L1348.2,520.8 L1349.2,523.6 L1350.2,526.5 L1351.2,529.3 L1352.2,532.2 L1353.2,535.0 L1354.1,537.9 L1355.1,540.7 L1356.0,543.6 L1357.0,546.5 L1357.9,549.3 L1358.8,552.2 L1359.7,555.1 L1360.6,558.0 L1361.5,560.8 L1362.4,563.7 L1363.3,566.6 L1364.1,569.5 L1365.0,572.4 L1365.8,575.3 L1366.7,578.2 L1367.5,581.1 L1368.3,584.0 L1369.1,586.9 L1369.9,589.8 L1370.7,592.7 L1371.5,595.6 L1372.2,598.6 L1373.0,601.5 L1373.7,604.5 L1374.4,607.4 L1375.1,610.3 L1375.8,613.3 L1376.5,616.2 L1377.2,619.1 L1377.9,622.0 L1378.6,624.9 L1379.3,627.8 L1380.0,630.7 L1380.8,633.6 L1381.5,636.5 L1382.2,639.4 L1383.0,642.3 L1383.7,645.2 L1384.5,648.1 L1385.2,651.0 L1386.0,653.9 L1386.7,656.9 L1387.4,659.8 L1388.2,662.7 L1388.9,665.6 L1389.6,668.5 L1390.3,671.5 L1391.0,674.4 L1391.7,677.3 L1392.4,680.2 L1393.1,683.2 L1393.8,686.1 L1394.5,689.0 L1395.2,691.9 L1395.9,694.8 L1396.6,697.8 L1397.3,700.7 L1397.9,703.6 L1398.6,706.6 L1399.3,709.5 L1400.0,712.4 L1400.6,715.4 L1401.3,718.3 L1402.0,721.2 L1402.6,724.2 L1403.3,727.1 L1403.9,730.0 L1404.6,733.0 L1405.2,735.9 L1405.9,738.8 L1406.5,741.8 L1407.2,744.7 L1407.8,747.7 L1408.4,750.6 L1409.0,753.6 L1409.7,756.5 L1410.3,759.4 L1410.9,762.4 L1411.5,765.3 L1412.1,768.3 L1412.7,771.2 L1413.3,774.2 L1413.9,777.1 L1414.5,780.0 L1415.1,783.0 L1415.7,785.9 L1416.3,788.9 L1416.9,791.8 L1417.5,794.8 L1418.1,797.7 L1418.7,800.6 L1419.3,803.6 L1419.9,806.5 L1420.5,809.5 L1421.1,812.4 L1421.7,815.3 L1422.2,818.3 L1422.8,821.2 L1423.4,824.2 L1424.0,827.1 L1424.6,830.0 L1425.2,833.0 L1425.8,835.9 L1426.4,838.8 L1427.0,841.8 L1427.6,844.7 L1428.2,847.7 L1428.8,850.6 L1429.4,853.5 L1430.0,856.5 L1430.6,859.4 L1431.2,862.4 L1431.8,865.3 L1432.4,868.3 L1433.0,871.2 L1433.6,874.2 L1434.2,877.1 L1434.7,880.1 L1435.3,883.0 L1435.9,886.0 L1436.5,888.9 L1437.0,891.9 L1437.6,894.9 L1438.1,897.8 L1438.7,900.8 L1439.2,903.7 L1439.8,906.7 L1440.3,909.7 L1440.8,912.7 L1441.4,915.6 L1441.9,918.6 L1442.4,921.6 L1442.9,924.5 L1443.4,927.5 L1443.9,930.4 L1444.4,933.4 L1444.9,936.4 L1445.4,939.3 L1445.9,942.3 L1446.4,945.3 L1446.9,948.2 L1447.4,951.2 L1447.9,954.1 L1448.4,957.1 L1448.9,960.0 L1449.4,963.0 L1449.9,965.9 L1450.4,968.9 L1451.0,971.8 L1451.5,974.8 L1452.0,977.7 L1452.5,980.6 L1453.1,983.6 L1453.6,986.5 L1454.1,989.5 L1454.6,992.4 L1455.2,995.4 L1455.7,998.3 L1456.3,1001.3 L1456.8,1004.2 L1457.3,1007.2 L1457.9,1010.1 L1458.4,1013.1 L1459.0,1016.0 L1459.5,1019.0 L1460.0,1021.9 L1460.6,1024.9 L1461.1,1027.8 L1461.6,1030.8 L1462.2,1033.8 L1462.7,1036.7 L1463.2,1039.7 L1463.8,1042.6 L1464.3,1045.6 L1464.8,1048.5 L1465.4,1051.5 L1465.9,1054.4 L1466.4,1057.4 L1467.0,1060.3 L1467.5,1063.3 L1468.0,1066.3 L1468.5,1069.2 L1469.1,1072.2 L1469.6,1075.1 L1470.1,1078.1 L1470.7,1081.0 L1471.2,1084.0 L1471.7,1086.9 L1472.3,1089.9 L1472.8,1092.8 L1473.3,1095.8 L1473.9,1098.7 L1474.4,1101.6 L1475.0,1104.6 L1475.5,1107.5 L1476.0,1110.5 L1476.6,1113.4 L1477.1,1116.4 L1477.7,1119.3 L1478.2,1122.3 L1478.8,1125.2 L1479.3,1128.2 L1479.9,1131.1 L1480.4,1134.1 L1481.0,1137.0 L1481.5,1140.0 L1482.0,1142.9 L1482.6,1145.9 L1483.1,1148.8 L1483.7,1151.8 L1484.2,1154.7 L1484.8,1157.7 L1485.3,1160.6 L1485.9,1163.5 L1486.5,1166.5 L1487.0,1169.4 L1487.6,1172.3 L1488.2,1175.2 L1488.8,1178.2 L1489.4,1181.1 L1490.0,1184.0 L1490.6,1186.9 L1491.2,1189.8 L1491.9,1192.7 L1492.5,1195.6 L1493.2,1198.5 L1493.9,1201.4 L1494.6,1204.3 L1495.3,1207.1 L1496.0,1210.0 L1496.8,1212.9 L1497.5,1215.8 L1498.3,1218.7 L1499.1,1221.5 L1499.9,1224.4 L1500.7,1227.3 L1501.5,1230.2 L1502.3,1233.1 L1503.1,1235.9 L1503.9,1238.8 L1504.7,1241.7 L1505.5,1244.6 L1506.3,1247.5 L1507.1,1250.4 L1507.9,1253.3 L1508.7,1256.2 L1509.5,1259.1 L1510.3,1262.0 L1511.1,1264.8 L1511.9,1267.7 L1512.7,1270.6 L1513.6,1273.4 L1514.4,1276.3 L1515.3,1279.1 L1516.2,1282.0 L1517.0,1284.9 L1517.9,1287.7 L1518.8,1290.6 L1519.7,1293.4 L1520.6,1296.3 L1521.5,1299.1 L1522.5,1301.9 L1523.4,1304.7 L1524.4,1307.5 L1525.4,1310.3 L1526.5,1313.0 L1527.5,1315.8 L1528.7,1318.5 L1529.8,1321.2 L1531.0,1324.0 L1532.2,1326.7 L1533.4,1329.3 L1534.7,1332.0 L1536.0,1334.7 L1537.4,1337.3 L1538.7,1340.0 L1540.1,1342.6 L1541.5,1345.2 L1543.0,1347.8 L1544.5,1350.3 L1546.1,1352.7 L1547.8,1355.1 L1549.6,1357.4 L1551.4,1359.7 L1553.3,1361.9 L1555.3,1364.0 L1557.3,1365.7 L1559.3,1367.2 L1561.3,1368.6 L1563.3,1369.8 L1565.3,1370.9 L1567.3,1372.0 L1569.3,1373.0 L1571.3,1374.2 L1573.3,1375.1 L1575.3,1375.6 L1577.3,1375.6 L1579.3,1375.6 L1581.3,1375.6 L1583.3,1375.6 L1585.3,1375.6 L1587.3,1375.6 L1589.3,1375.6 L1591.3,1375.6 L1593.3,1375.6 L1595.3,1375.6 L1597.3,1375.6 L1599.3,1375.6 L1601.3,1375.6 L1603.3,1375.6 L1605.3,1375.5 L1607.3,1375.4 L1609.3,1375.2 L1611.3,1375.0 L1613.3,1374.8 L1615.3,1374.6 L1617.3,1374.4 L1619.3,1374.2 L1621.3,1374.1 L1623.3,1373.9 L1625.3,1373.8 L1627.3,1373.8 L1629.3,1373.8 L1631.3,1373.8 L1633.3,1373.8 L1635.3,1373.8 L1637.3,1373.8 L1639.3,1373.8 L1641.3,1373.8 L1643.3,1373.8 L1645.3,1373.8 L1647.3,1373.8 L1649.3,1373.8 L1651.3,1373.8 L1653.3,1373.8 L1655.3,1373.8 L1657.3,1373.8 L1659.3,1373.8 L1661.3,1373.8 L1663.3,1373.8 L1665.3,1373.8 L1667.3,1373.8 L1669.3,1373.8 L1671.3,1373.8 L1673.3,1373.8 L1675.3,1373.8 L1677.3,1373.8 L1679.3,1373.8 L1681.3,1373.8 L1683.3,1373.8 L1685.3,1373.8 L1687.3,1373.8 L1689.3,1373.8 L1691.3,1373.8 L1693.3,1373.8 L1695.3,1373.8 L1697.3,1373.8 L1699.3,1373.8 L1701.3,1373.8 L1703.3,1373.8 L1705.3,1373.8 L1707.3,1373.8 L1709.3,1373.8 L1711.3,1373.8 L1713.3,1373.8 L1715.3,1373.8 L1717.3,1373.8 L1719.3,1373.8 L1721.3,1373.8 L1723.3,1373.8 L1725.3,1373.8 L1727.3,1373.8 L1729.3,1373.8 L1731.3,1373.8 L1733.3,1373.9 L1735.3,1373.9 L1737.3,1373.9 L1739.3,1373.9 L1741.3,1373.9 L1743.3,1374.0 L1745.3,1374.0 L1747.3,1374.0 L1749.3,1374.0 L1751.3,1374.1 L1753.3,1374.1 L1755.3,1374.1 L1757.3,1374.2 L1759.3,1374.2 L1761.3,1374.2 L1763.3,1374.3 L1765.3,1374.3 L1767.3,1374.3 L1769.3,1374.4 L1771.3,1374.4 L1773.3,1374.5 L1775.3,1374.5 L1777.3,1374.5 L1779.3,1374.6 L1781.3,1374.6 L1783.3,1374.7 L1785.3,1374.7 L1787.3,1374.7 L1789.3,1374.8 L1791.3,1374.8 L1793.3,1374.8 L1795.3,1374.9 L1797.3,1374.9 L1799.3,1374.9 L1801.3,1375.0 L1803.3,1375.0 L1805.3,1375.0 L1807.3,1375.1 L1809.3,1375.1 L1811.3,1375.1 L1813.3,1375.1 L1815.3,1375.2 L1817.3,1375.2 L1819.3,1375.2 L1821.3,1375.2 L1823.3,1375.2 L1825.3,1375.3 L1827.3,1375.3 L1829.3,1375.3 L1831.3,1375.3 L1833.3,1375.3 L1835.3,1375.4 L1837.3,1375.4 L1839.3,1375.4 L1841.3,1375.4 L1843.3,1375.4 L1845.3,1375.4 L1847.3,1375.5 L1849.3,1375.5 L1851.3,1375.5 L1853.3,1375.5 L1855.3,1375.5 L1857.3,1375.6 L1859.3,1375.6 L1861.3,1375.6 L1863.3,1375.6 L1865.3,1375.6 L1867.3,1375.6 L1869.3,1375.7 L1871.3,1375.7 L1873.3,1375.7 L1875.3,1375.7 L1877.3,1375.7 L1879.3,1375.7 L1881.3,1375.8 L1883.3,1375.8 L1885.3,1375.8 L1887.3,1375.8 L1889.3,1375.8 L1891.3,1375.8 L1893.3,1375.8 L1895.3,1375.9 L1897.3,1375.9 L1899.3,1375.9 L1901.3,1375.9 L1903.3,1375.9 L1905.3,1375.9 L1907.3,1375.9 L1909.3,1375.9 L1911.3,1375.9 L1913.3,1375.9 L1915.3,1376.0 L1917.3,1376.0 L1919.3,1376.0 L1921.3,1376.0 L1923.3,1376.0 L1925.3,1376.0 L1927.3,1376.0 L1929.3,1376.0 L1931.3,1376.0 L1933.3,1376.0 L1935.3,1376.0 L1937.3,1376.0 L1939.3,1376.0 L1941.3,1376.0 L1943.3,1376.0 L1945.3,1376.0 L1947.3,1376.0 L1949.3,1376.0 L1951.3,1376.0 L1953.3,1376.0 L1955.3,1376.0 L1957.3,1376.0 L1959.3,1376.0 L1961.3,1376.0 L1963.3,1376.0 L1965.3,1376.0 L1967.3,1376.0 L1969.3,1376.0 L1971.3,1376.0 L1973.3,1376.0 L1975.3,1376.0 L1977.3,1376.0 L1979.3,1376.0 L1981.3,1376.0 L1983.3,1376.0 L1985.3,1376.0 L1987.3,1376.0 L1989.3,1376.0 L1991.3,1376.0 L1993.3,1376.0 L1995.3,1376.0 L1997.3,1376.0 L1999.3,1376.0 L2001.3,1376.0 L2003.3,1376.0 L2005.3,1376.0 L2007.3,1376.0 L2009.3,1376.0 L2011.3,1376.0 L2013.3,1376.0 L2015.3,1376.0 L2017.3,1376.0 L2019.3,1376.0 L2021.3,1376.0 L2023.3,1376.0 L2025.3,1376.0 L2027.3,1376.0 L2029.3,1376.0 L2031.3,1376.0 L2033.3,1376.0 L2035.3,1376.0 L2037.3,1376.0 L2039.3,1376.0 L2041.3,1376.0 L2043.3,1376.0 L2045.3,1376.0 L2047.3,1376.0 L2049.3,1376.0 L2051.3,1376.0 L2053.3,1376.0 L2055.3,1376.0 L2057.3,1376.0 L2059.3,1376.0 L2061.3,1376.0 L2063.3,1376.0 L2065.3,1376.0 L2067.3,1376.0 L2069.3,1376.0 L2071.3,1376.0 L2073.3,1376.0 L2075.3,1376.0 L2077.3,1376.0 L2079.3,1376.0 L2081.3,1376.0 L2083.3,1376.0 L2085.3,1376.0 L2087.3,1376.0 L2089.3,1376.0 L2091.3,1376.0 L2093.3,1376.0 L2095.3,1376.0 L2097.3,1376.0 L2099.3,1376.0 L2101.0,1376.0" stroke="#ff8000" stroke-width="1.7" stroke-dasharray="9 9"/>
</g>
<g fill="#000" shape-rendering="crispEdges">
<rect x="249" y="28" width="1858" height="6"/>
<rect x="234" y="1510" width="1873" height="6"/>
<rect x="261" y="28" width="5" height="1488"/>
<rect x="2101" y="28" width="6" height="1499"/>
<rect x="234" y="192" width="28" height="6"/>
<rect x="234" y="522" width="28" height="6"/>
<rect x="234" y="851" width="28" height="5"/>
<rect x="234" y="1180" width="28" height="6"/>
<rect x="249" y="357" width="13" height="5"/>
<rect x="249" y="686" width="13" height="5"/>
<rect x="249" y="1016" width="13" height="5"/>
<rect x="249" y="1345" width="13" height="5"/>
<rect x="706" y="1515" width="6" height="26"/>
<rect x="1264" y="1515" width="6" height="26"/>
<rect x="1822" y="1515" width="6" height="26"/>
<rect x="428" y="1515" width="5" height="12"/>
<rect x="986" y="1515" width="6" height="12"/>
<rect x="1543" y="1515" width="6" height="12"/>
</g>
<g font-size="64.6px">
<text x="214" y="213.0" text-anchor="end">100</text>
<text x="214" y="542.6" text-anchor="end">80</text>
<text x="214" y="871.6" text-anchor="end">60</text>
<text x="214" y="1200.8" text-anchor="end">40</text>
<text x="214" y="1530.6" text-anchor="end">20</text>
<text x="709" y="1609" text-anchor="middle">200</text>
<text x="1267" y="1609" text-anchor="middle">400</text>
<text x="1825" y="1609" text-anchor="middle">600</text>
</g>
<text x="923" y="1731.6" font-size="77.6px" textLength="522.5" lengthAdjust="spacingAndGlyphs">Temperature(°C)</text>
<text transform="translate(87.6 940.6) rotate(-90)" font-size="77.6px" textLength="342" lengthAdjust="spacingAndGlyphs">Weight(%)</text>
<rect x="1559" y="141" width="487" height="428" fill="#fff" stroke="#000" stroke-width="2" shape-rendering="crispEdges"/>
<line x1="1568" y1="187.9" x2="1722" y2="187.9" stroke="#ff0000" stroke-width="1.9" stroke-dasharray="5.2 3.2"/>
<text x="1738" y="210.0" font-size="68px">ITPB-SBR</text>
<line x1="1568" y1="272.0" x2="1722" y2="272.0" stroke="#800035" stroke-width="1.9" stroke-dasharray="9.2 4 2.8 4 2.8 4.6"/>
<text x="1738" y="293.8" font-size="68px">P0-SBR</text>
<line x1="1568" y1="355.6" x2="1722" y2="355.6" stroke="#000000" stroke-width="1.6" stroke-dasharray="7.6 2.7 1.8 2.7"/>
<text x="1738" y="377.8" font-size="68px">P2-SBR</text>
<line x1="1568" y1="439.4" x2="1722" y2="439.4" stroke="#0000ff" stroke-width="1.2"/>
<text x="1738" y="461.4" font-size="68px">P5-SBR</text>
<line x1="1568" y1="523.4" x2="1722" y2="523.4" stroke="#ff8000" stroke-width="1.2" stroke-dasharray="9 9"/>
<text x="1738" y="545.4" font-size="68px">P10-SBR</text>
<g fill="#000">
<rect x="399.2" y="683.8" width="815.3" height="4.3"/>
<rect x="399.2" y="772.2" width="815.3" height="3.5"/>
<rect x="397" y="1195" width="817" height="5"/>
<rect x="671" y="688" width="1.2" height="1.6" fill="#444"/>
<rect x="942" y="688" width="1.2" height="1.6" fill="#444"/>
<rect x="942" y="775.6" width="1.2" height="1.6" fill="#444"/>
</g>
<g font-weight="bold" font-size="55px">
<text transform="translate(429.6 750.7) scale(1.077 1.075)">Samples</text>
<text y="750"><tspan x="735.7">T</tspan><tspan x="771.3" font-size="33px">d5</tspan><tspan x="807.3" font-size="58px">/</tspan><tspan x="827.6" class="deg" font-weight="normal" font-size="50px" textLength="45" lengthAdjust="spacingAndGlyphs">℃</tspan></text>
<text y="750"><tspan x="994.8">T</tspan><tspan x="1030.4" font-size="30px" textLength="59.5" lengthAdjust="spacingAndGlyphs">max</tspan><tspan x="1090.0" font-size="58px">/</tspan><tspan x="1111.5" class="deg" font-weight="normal" font-size="50px" textLength="45" lengthAdjust="spacingAndGlyphs">℃</tspan></text>
</g>
<g font-size="54px">
<text x="421.6" y="837.4" textLength="229.4" lengthAdjust="spacingAndGlyphs">ITPB-SBR</text>
<text x="448.0" y="921.7" textLength="175.4" lengthAdjust="spacingAndGlyphs">P0-SBR</text>
<text x="448.0" y="1004.1" textLength="175.4" lengthAdjust="spacingAndGlyphs">P2-SBR</text>
<text x="448.0" y="1088.2" textLength="175.4" lengthAdjust="spacingAndGlyphs">P5-SBR</text>
<text x="435.8" y="1171.8" textLength="201.0" lengthAdjust="spacingAndGlyphs">P10-SBR</text>
</g>
<g font-size="51px" text-anchor="middle">
<text x="806.6" y="837.1" textLength="74.1" lengthAdjust="spacingAndGlyphs">364</text>
<text x="1077.4" y="837.1" textLength="74.1" lengthAdjust="spacingAndGlyphs">467</text>
<text x="806.6" y="921.4" textLength="74.1" lengthAdjust="spacingAndGlyphs">372</text>
<text x="1077.4" y="921.4" textLength="74.1" lengthAdjust="spacingAndGlyphs">481</text>
<text x="806.6" y="1003.8" textLength="74.1" lengthAdjust="spacingAndGlyphs">365</text>
<text x="1077.4" y="1003.8" textLength="74.1" lengthAdjust="spacingAndGlyphs">473</text>
<text x="806.6" y="1087.9" textLength="74.1" lengthAdjust="spacingAndGlyphs">364</text>
<text x="1077.4" y="1087.9" textLength="74.1" lengthAdjust="spacingAndGlyphs">474</text>
<text x="806.6" y="1171.5" textLength="74.1" lengthAdjust="spacingAndGlyphs">364</text>
<text x="1077.4" y="1171.5" textLength="74.1" lengthAdjust="spacingAndGlyphs">474</text>
</g>
</svg></body></html>
